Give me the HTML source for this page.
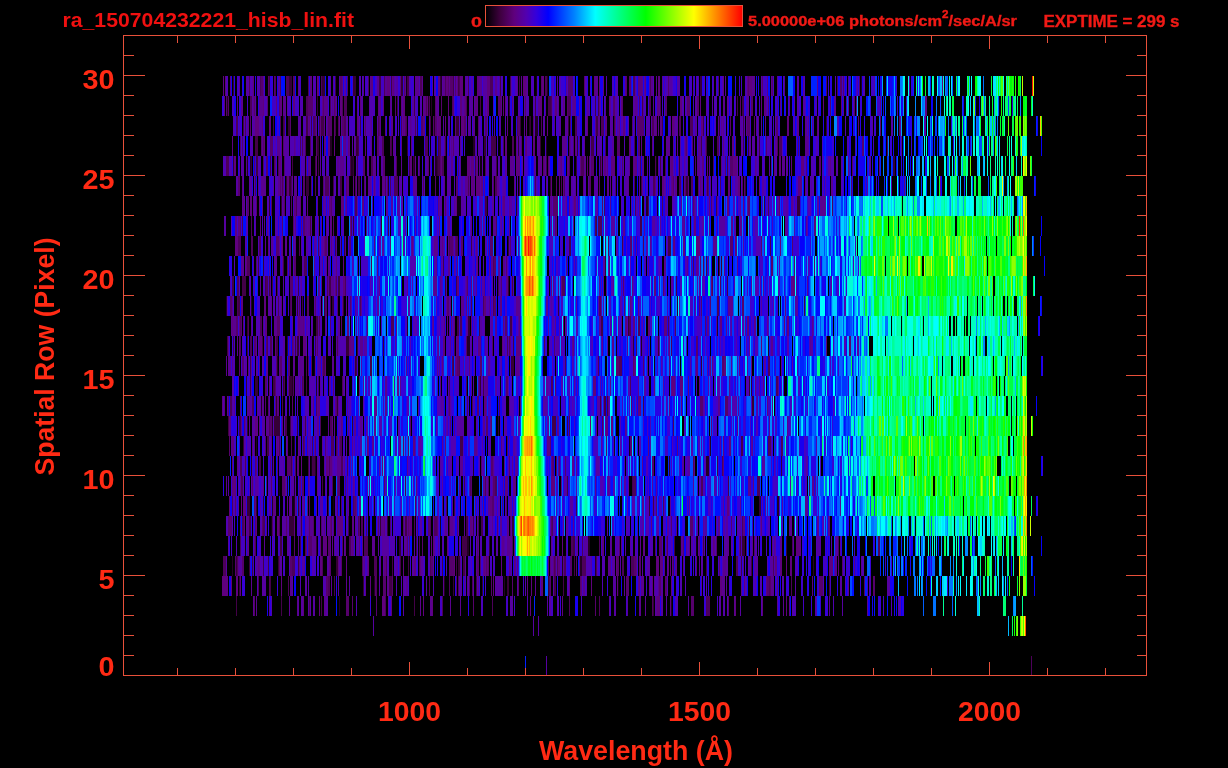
<!DOCTYPE html>
<html><head><meta charset="utf-8"><style>
html,body{margin:0;padding:0;background:#000;}
svg{display:block;}
.t{font-family:"Liberation Sans",Arial,sans-serif;font-weight:bold;}
</style></head><body>
<svg width="1228" height="768" viewBox="0 0 1228 768">
<defs><linearGradient id="cb" x1="0" x2="1" y1="0" y2="0"><stop offset="0.000" stop-color="#000000"/><stop offset="0.016" stop-color="#120012"/><stop offset="0.055" stop-color="#3e003e"/><stop offset="0.110" stop-color="#5f007d"/><stop offset="0.157" stop-color="#5200af"/><stop offset="0.196" stop-color="#3400dc"/><stop offset="0.243" stop-color="#0000ff"/><stop offset="0.345" stop-color="#0082ff"/><stop offset="0.427" stop-color="#00ffff"/><stop offset="0.525" stop-color="#00ff80"/><stop offset="0.624" stop-color="#00ff00"/><stop offset="0.718" stop-color="#80ff00"/><stop offset="0.812" stop-color="#ffff00"/><stop offset="0.906" stop-color="#ff8000"/><stop offset="1.000" stop-color="#ff0000"/></linearGradient></defs>
<rect width="1228" height="768" fill="#000"/>
<g stroke-width="20" fill="none">
<path stroke="#120012" d="M618 586h1M245 546h1M321 546h2M680 546h1M696 546h1M271 526h1M753 526h1M292 506h2M333 506h1M374 506h1M279 486h1M358 486h2M311 466h1M629 446h1M314 366h1M654 366h1M762 366h1M616 346h1M275 306h1M549 226h1M457 206h4M487 206h1M657 206h1M683 186h1M305 166h1M480 166h2M602 166h1M656 166h1M256 106h1M406 86h1M536 86h1"/>
<path stroke="#240024" d="M339 606h1M671 606h1M374 586h1M444 586h1M504 586h1M232 566h1M562 566h1M580 566h2M595 566h1M813 566h1M467 546h2M588 546h2M440 526h1M272 506h1M294 506h1M777 506h2M287 486h1M294 486h1M251 466h1M272 466h1M315 466h1M473 466h1M706 466h3M256 446h1M294 446h1M614 446h1M710 446h1M272 426h1M261 406h1M292 386h1M316 386h1M277 366h1M467 346h3M641 346h1M768 346h1M407 326h1M717 326h1M226 306h1M251 306h1M677 306h1M319 266h1M516 206h1M646 206h2M388 186h1M247 166h1M250 166h1M351 166h2M414 166h1M435 166h2M330 146h2M436 146h1M473 146h2M500 146h1M546 146h1M434 126h1M529 126h1M535 126h3M227 106h1M428 106h1M431 106h1M441 86h1M547 86h1M861 86h1"/>
<path stroke="#360036" d="M653 606h1M239 586h1M363 586h1M453 586h1M482 586h1M507 586h2M548 586h1M236 566h1M249 566h1M278 566h1M336 566h2M458 566h2M316 546h1M399 546h2M489 546h1M742 546h3M786 546h1M289 526h5M380 526h1M387 526h1M512 526h2M247 506h3M256 506h1M263 506h1M298 506h1M649 506h1M759 506h2M669 466h1M781 466h1M243 446h1M247 426h1M274 426h6M297 426h1M352 426h1M498 426h1M276 406h1M337 406h1M752 406h2M246 386h1M255 386h3M283 386h1M289 386h3M480 386h1M749 386h1M751 386h1M355 366h1M511 366h3M701 366h1M287 346h1M297 346h2M346 346h3M357 346h1M383 346h1M633 346h1M658 346h1M247 326h1M468 326h2M628 326h1M297 306h1M324 306h1M332 306h2M343 306h1M558 306h1M445 286h1M508 286h1M263 266h1M605 266h1M721 266h1M341 246h1M344 246h1M508 246h1M353 226h1M381 226h1M269 206h1M281 206h1M764 206h1M797 206h3M286 186h1M289 186h2M306 186h3M550 186h1M686 186h2M745 186h1M233 166h1M251 166h1M353 166h1M413 166h1M437 166h1M576 166h1M600 166h1M679 166h1M893 166h2M317 146h2M356 146h2M407 146h1M484 146h2M518 146h1M540 146h1M577 146h1M748 146h1M288 126h2M417 126h1M456 126h3M520 126h1M530 126h1M568 126h1M719 126h1M826 126h1M317 106h1M509 106h1M233 86h1M289 86h3M322 86h3M353 86h3M401 86h2M440 86h1M700 86h2"/>
<path stroke="#430048" d="M236 606h1M281 606h1M321 606h1M414 606h1M270 586h1M334 586h1M389 586h3M476 586h1M554 586h2M563 586h1M829 586h1M252 566h1M263 566h1M268 566h1M298 566h1M392 566h1M400 566h1M408 566h1M442 566h1M456 566h1M463 566h2M574 566h1M706 566h1M741 566h1M751 566h1M280 546h2M300 546h1M416 546h1M462 546h5M573 546h2M674 546h1M703 546h1M740 546h1M249 526h2M301 526h1M348 526h1M405 526h2M449 526h1M466 526h2M473 526h1M481 526h2M749 526h1M328 506h1M454 506h1M576 506h1M653 506h1M322 486h1M405 486h1M464 486h1M567 486h1M632 486h1M728 486h1M259 466h2M291 466h1M308 466h1M312 466h3M717 466h1M267 446h2M460 446h3M741 446h2M228 426h1M239 426h2M285 426h2M290 426h1M305 426h1M552 426h4M567 426h1M600 406h1M604 406h2M607 406h1M643 406h1M250 386h1M273 386h2M306 386h1M483 386h1M250 366h1M356 366h1M370 366h2M453 366h1M227 346h1M233 346h1M247 346h1M262 346h1M276 346h2M295 346h1M315 346h1M513 346h1M316 326h2M457 326h2M479 326h1M510 326h2M601 326h2M238 306h2M302 306h1M330 306h1M804 306h1M232 286h2M242 286h4M265 286h1M269 286h1M272 286h1M298 286h1M329 286h2M338 286h2M456 286h1M512 286h1M676 286h1M727 286h1M258 266h1M283 266h1M443 266h1M706 266h1M335 246h1M471 246h1M569 246h2M622 246h1M668 246h3M770 246h1M310 226h1M388 226h1M596 226h1M640 226h2M485 206h2M716 206h1M333 186h1M340 186h2M358 186h2M519 186h1M641 186h1M707 186h1M256 166h2M270 166h1M292 166h1M315 166h1M318 166h1M350 166h1M409 166h1M438 166h2M475 166h1M496 166h1M546 166h1M660 166h1M727 166h1M255 146h3M358 146h1M391 146h1M438 146h1M445 146h1M491 146h5M591 146h3M701 146h1M706 146h1M743 146h1M759 146h1M243 126h1M273 126h1M283 126h1M306 126h2M311 126h1M319 126h1M321 126h3M335 126h1M360 126h1M430 126h1M596 126h2M614 126h1M662 126h1M703 126h1M743 126h1M397 106h1M414 106h1M480 106h1M535 106h1M548 106h3M595 106h1M598 106h1M642 106h1M737 106h1M742 106h2M269 86h1M335 86h1M379 86h2M391 86h1M407 86h2M453 86h1M458 86h1M500 86h1M510 86h1M519 86h1"/>
<path stroke="#4d005a" d="M309 606h1M385 606h1M442 606h1M492 606h1M569 606h1M599 606h1M652 606h1M706 606h4M258 586h1M269 586h1M288 586h1M328 586h2M376 586h1M429 586h1M449 586h1M458 586h1M469 586h1M472 586h1M549 586h1M769 586h1M791 586h1M223 566h3M237 566h1M292 566h3M322 566h1M362 566h1M374 566h3M386 566h1M419 566h1M430 566h1M554 566h1M557 566h1M564 566h2M582 566h4M596 566h1M622 566h2M631 566h3M673 566h1M736 566h2M773 566h1M240 546h1M255 546h1M305 546h1M349 546h2M364 546h4M419 546h1M512 546h1M571 546h2M582 546h1M599 546h1M667 546h1M792 546h1M838 546h1M878 546h2M242 526h2M263 526h2M272 526h1M279 526h1M358 526h1M361 526h2M366 526h1M414 526h1M430 526h1M434 526h3M478 526h1M552 526h1M742 526h1M232 506h1M353 506h1M415 506h1M446 506h1M663 506h1M241 486h2M332 486h1M470 486h1M485 486h1M488 486h1M495 486h2M633 486h3M701 486h2M757 486h3M809 486h1M240 466h2M245 466h1M295 466h1M329 466h1M341 466h2M347 466h1M693 466h1M722 466h1M279 446h1M291 446h1M303 446h1M312 446h1M331 446h3M336 446h1M340 446h2M768 446h3M781 446h2M269 426h1M320 426h1M330 426h2M569 426h1M602 426h1M673 426h1M230 406h2M252 406h2M282 406h1M316 406h1M467 406h1M472 406h1M499 406h1M284 386h1M293 386h1M302 386h1M318 386h1M342 386h1M449 386h1M466 386h1M551 386h2M630 386h1M776 386h2M306 366h1M323 366h2M452 366h1M459 366h1M565 366h1M598 366h1M619 366h3M768 366h2M240 346h1M250 346h2M267 346h1M270 346h2M337 346h1M454 346h1M507 346h1M509 346h1M544 346h1M636 346h1M671 346h1M240 326h1M248 326h1M260 326h2M319 326h1M391 326h3M460 326h2M629 326h2M638 326h2M668 326h1M675 326h1M237 306h1M278 306h1M290 306h1M299 306h1M360 306h1M471 306h1M483 306h1M493 306h1M599 306h2M717 306h2M237 286h2M266 286h2M277 286h1M327 286h1M336 286h1M345 286h1M498 286h1M562 286h3M712 286h1M720 286h1M247 266h3M304 266h3M371 266h1M493 266h1M693 266h1M703 266h1M719 266h1M238 246h3M251 246h2M259 246h2M299 246h1M318 246h1M449 246h1M456 246h2M608 246h1M643 246h1M242 226h1M251 226h1M351 226h1M496 226h1M595 226h1M598 226h4M296 206h1M355 206h2M604 206h1M635 206h1M648 206h1M662 206h1M768 206h1M832 206h1M255 186h1M282 186h1M291 186h1M315 186h1M325 186h4M355 186h1M385 186h1M390 186h1M394 186h4M423 186h1M468 186h1M495 186h2M535 186h1M561 186h1M564 186h1M634 186h1M653 186h2M679 186h2M691 186h2M720 186h1M226 166h3M274 166h1M278 166h1M357 166h1M371 166h2M396 166h1M442 166h2M485 166h1M569 166h1M581 166h3M640 166h1M655 166h1M665 166h1M713 166h1M300 146h1M302 146h1M305 146h1M310 146h1M382 146h2M390 146h1M425 146h3M439 146h2M503 146h1M512 146h2M605 146h1M634 146h1M717 146h2M777 146h1M779 146h3M887 146h1M236 126h2M245 126h1M280 126h1M284 126h1M313 126h2M338 126h1M344 126h2M378 126h1M401 126h1M406 126h1M415 126h1M517 126h1M541 126h1M575 126h2M601 126h3M652 126h2M679 126h2M690 126h3M250 106h2M306 106h2M330 106h1M342 106h1M344 106h3M426 106h1M429 106h1M452 106h1M466 106h1M551 106h1M568 106h3M649 106h2M660 106h1M249 86h1M260 86h1M275 86h1M280 86h1M286 86h3M308 86h1M321 86h1M368 86h1M384 86h1M420 86h2M445 86h1M459 86h1M468 86h1M490 86h3M545 86h2M633 86h2M650 86h1M837 86h1M1031 666h1"/>
<path stroke="#56006c" d="M254 606h1M346 606h3M352 606h1M376 606h1M473 606h1M595 606h1M691 606h3M728 606h1M326 586h2M375 586h1M383 586h3M392 586h1M456 586h1M491 586h1M512 586h1M518 586h1M550 586h1M580 586h1M626 586h3M659 586h2M665 586h2M767 586h2M770 586h1M819 586h4M864 586h1M873 586h2M235 566h1M242 566h2M279 566h1M290 566h2M330 566h1M341 566h1M431 566h2M449 566h5M477 566h2M480 566h1M486 566h1M488 566h1M548 566h1M555 566h1M570 566h2M576 566h1M617 566h2M634 566h2M639 566h2M719 566h1M842 566h1M294 546h1M309 546h3M328 546h2M342 546h1M407 546h1M409 546h1M422 546h1M477 546h1M619 546h1M655 546h1M659 546h3M683 546h1M716 546h1M746 546h1M754 546h1M228 526h4M255 526h1M262 526h1M286 526h1M309 526h1M313 526h1M321 526h1M331 526h1M359 526h1M378 526h1M390 526h1M403 526h1M408 526h1M417 526h1M428 526h2M437 526h1M457 526h1M497 526h1M510 526h1M551 526h1M671 526h1M690 526h3M731 526h1M235 506h1M254 506h1M309 506h1M337 506h1M341 506h1M354 506h2M492 506h2M502 506h1M506 506h1M656 506h1M252 486h1M271 486h1M282 486h3M302 486h2M338 486h2M345 486h1M384 486h1M471 486h1M493 486h2M255 466h1M287 466h4M481 466h1M491 466h2M509 466h1M552 466h2M556 466h1M559 466h1M565 466h1M652 466h2M229 446h1M265 446h1M304 446h1M315 446h1M325 446h1M403 446h1M408 446h1M507 446h1M550 446h1M606 446h1M630 446h2M244 426h1M270 426h2M410 426h1M450 426h1M486 426h2M491 426h1M228 406h1M265 406h1M268 406h1M292 406h1M336 406h1M449 406h1M477 406h2M520 406h1M631 406h1M700 406h3M725 406h3M265 386h2M275 386h1M303 386h1M333 386h1M479 386h1M506 386h2M555 386h1M239 366h1M242 366h2M276 366h1M280 366h2M288 366h2M308 366h1M311 366h1M457 366h2M480 366h2M616 366h3M633 366h1M643 366h1M722 366h2M239 346h1M254 346h2M266 346h1M292 346h1M317 346h1M466 346h1M492 346h1M554 346h1M696 346h2M849 346h2M236 326h2M241 326h1M277 326h3M330 326h1M341 326h1M367 326h1M505 326h2M705 326h1M230 306h2M291 306h1M307 306h2M315 306h1M325 306h2M337 306h1M350 306h1M447 306h2M494 306h2M624 306h1M699 306h1M701 306h1M710 306h1M742 306h2M290 286h3M467 286h1M501 286h1M623 286h1M663 286h1M256 266h1M287 266h1M289 266h1M294 266h2M494 266h2M506 266h1M609 266h1M700 266h1M771 266h2M794 266h1M814 266h1M276 246h3M325 246h2M349 246h2M450 246h3M455 246h1M461 246h2M490 246h3M510 246h1M605 246h1M630 246h2M730 246h3M761 246h1M792 246h1M240 226h1M282 226h1M293 226h1M303 226h2M333 226h1M555 226h1M247 206h2M256 206h1M271 206h1M284 206h1M291 206h1M331 206h1M445 206h1M553 206h5M602 206h1M693 206h1M711 206h1M748 206h2M779 206h1M238 186h2M280 186h1M303 186h2M311 186h1M323 186h1M346 186h1M364 186h1M387 186h1M435 186h1M456 186h2M493 186h1M556 186h1M589 186h2M599 186h1M615 186h1M673 186h1M685 186h1M698 186h1M708 186h1M742 186h1M744 186h1M851 186h1M254 166h1M263 166h1M266 166h2M284 166h1M363 166h2M383 166h2M419 166h1M428 166h1M440 166h1M458 166h1M543 166h1M548 166h1M587 166h1M589 166h1M591 166h3M622 166h1M695 166h1M725 166h1M730 166h3M806 166h1M819 166h2M852 166h1M240 146h1M242 146h1M261 146h1M263 146h1M270 146h3M283 146h1M316 146h1M377 146h2M449 146h1M453 146h1M521 146h1M569 146h1M573 146h1M617 146h3M638 146h2M686 146h1M692 146h1M766 146h1M798 146h1M862 146h2M250 126h1M290 126h1M315 126h1M328 126h4M334 126h1M342 126h2M365 126h1M379 126h1M405 126h1M421 126h2M433 126h1M435 126h2M464 126h2M478 126h1M485 126h2M518 126h2M533 126h1M570 126h1M632 126h1M637 126h7M730 126h1M747 126h3M754 126h1M776 126h2M899 126h1M226 106h1M228 106h1M254 106h1M267 106h1M279 106h1M308 106h5M323 106h1M334 106h1M395 106h1M435 106h1M441 106h1M453 106h1M498 106h3M525 106h1M567 106h1M613 106h2M622 106h1M639 106h1M665 106h2M687 106h3M697 106h2M740 106h1M751 106h2M768 106h1M830 106h1M854 106h1M261 86h2M268 86h1M274 86h1M293 86h2M340 86h2M347 86h1M404 86h1M448 86h1M450 86h3M455 86h1M541 86h1M568 86h5M584 86h1M626 86h1M629 86h2M668 86h1M718 86h1M748 86h1M762 86h1M772 86h1M826 86h1M840 86h2M843 86h1M859 86h1"/>
<path stroke="#5f007e" d="M303 606h1M319 606h1M382 606h3M391 606h1M423 606h1M432 606h1M530 606h1M562 606h1M657 606h3M670 606h1M735 606h1M762 606h1M786 606h1M222 586h6M231 586h1M236 586h2M240 586h1M281 586h1M370 586h1M493 586h1M527 586h1M531 586h1M541 586h2M569 586h1M581 586h1M591 586h1M617 586h1M639 586h1M652 586h1M671 586h1M720 586h2M744 586h1M766 586h1M777 586h1M812 586h1M258 566h1M320 566h2M329 566h1M338 566h1M346 566h1M368 566h1M384 566h2M403 566h1M414 566h2M420 566h1M454 566h1M484 566h1M487 566h1M501 566h1M509 566h1M514 566h1M517 566h1M550 566h1M553 566h1M558 566h2M616 566h1M636 566h1M656 566h3M660 566h3M668 566h1M670 566h1M683 566h1M696 566h1M775 566h2M780 566h2M786 566h1M790 566h2M829 566h4M838 566h1M854 566h1M254 546h1M306 546h1M308 546h1M320 546h1M324 546h3M345 546h1M352 546h1M359 546h1M431 546h1M433 546h1M447 546h1M514 546h1M562 546h1M602 546h2M621 546h1M643 546h1M689 546h1M699 546h1M713 546h1M739 546h1M796 546h5M244 526h1M256 526h1M277 526h2M294 526h1M324 526h1M330 526h1M333 526h1M337 526h6M352 526h1M384 526h1M409 526h3M470 526h2M507 526h1M651 526h1M676 526h1M743 526h2M761 526h1M229 506h1M241 506h1M243 506h3M255 506h1M273 506h2M304 506h1M442 506h1M475 506h1M483 506h1M490 506h2M727 506h2M232 486h4M299 486h2M308 486h1M337 486h1M416 486h1M505 486h3M513 486h3M551 486h4M753 486h1M232 466h1M256 466h1M270 466h1M277 466h1M297 466h2M301 466h1M326 466h2M330 466h2M382 466h1M723 466h1M232 446h2M252 446h1M254 446h1M277 446h1M287 446h1M299 446h1M307 446h1M337 446h1M339 446h1M367 446h1M413 446h2M445 446h1M501 446h1M547 446h3M648 446h1M677 446h1M723 446h1M729 446h2M229 426h2M241 426h1M255 426h2M332 426h1M341 426h1M348 426h1M454 426h1M590 426h1M606 426h2M611 426h2M711 426h1M737 426h1M222 406h1M224 406h1M240 406h1M249 406h1M275 406h1M277 406h2M313 406h1M318 406h2M335 406h1M484 406h2M638 406h3M681 406h1M767 406h1M269 386h1M288 386h1M440 386h1M593 386h3M654 386h1M672 386h3M680 386h3M688 386h1M755 386h1M763 386h1M248 366h1M322 366h1M325 366h1M442 366h1M456 366h1M469 366h1M634 366h1M669 366h1M696 366h2M710 366h1M712 366h1M724 366h2M259 346h3M275 346h1M293 346h1M303 346h3M349 346h2M353 346h1M443 346h2M457 346h2M478 346h3M502 346h1M510 346h1M516 346h5M573 346h1M669 346h1M761 346h1M826 346h1M232 326h1M239 326h1M243 326h1M265 326h2M298 326h2M303 326h1M347 326h2M444 326h1M451 326h1M454 326h1M471 326h1M503 326h1M519 326h1M563 326h1M625 326h2M633 326h2M648 326h2M664 326h3M720 326h2M747 326h2M784 326h1M787 326h2M241 306h2M264 306h2M281 306h1M466 306h1M484 306h2M500 306h2M630 306h1M638 306h1M785 306h1M335 286h1M343 286h2M457 286h2M471 286h1M484 286h1M507 286h1M551 286h1M553 286h1M561 286h1M632 286h1M654 286h2M711 286h1M793 286h2M246 266h1M314 266h1M336 266h1M343 266h1M377 266h1M457 266h1M566 266h1M648 266h1M724 266h1M235 246h3M268 246h1M282 246h1M324 246h1M331 246h1M345 246h1M374 246h1M412 246h1M442 246h1M476 246h1M673 246h2M683 246h2M696 246h4M735 246h2M780 246h1M235 226h2M238 226h2M260 226h1M264 226h1M267 226h1M295 226h1M301 226h1M318 226h1M331 226h1M439 226h1M509 226h1M556 226h1M694 226h2M814 226h2M243 206h1M250 206h2M294 206h2M300 206h1M307 206h1M329 206h2M341 206h3M362 206h2M438 206h1M456 206h1M503 206h2M569 206h1M574 206h2M639 206h1M709 206h1M727 206h2M743 206h1M242 186h1M283 186h1M287 186h2M347 186h2M353 186h1M374 186h1M382 186h1M472 186h2M476 186h4M481 186h2M514 186h1M551 186h1M559 186h1M563 186h1M583 186h1M655 186h1M662 186h2M672 186h1M675 186h1M688 186h1M700 186h1M728 186h2M738 186h2M759 186h1M798 186h4M805 186h1M904 186h1M234 166h2M275 166h1M279 166h2M306 166h1M316 166h1M410 166h2M441 166h1M467 166h3M471 166h3M476 166h1M516 166h4M544 166h1M561 166h1M567 166h2M580 166h1M601 166h1M604 166h2M607 166h1M611 166h4M633 166h1M635 166h2M671 166h2M702 166h2M707 166h1M721 166h1M733 166h4M774 166h1M779 166h2M791 166h1M801 166h3M848 166h1M232 146h1M264 146h1M281 146h1M324 146h1M328 146h2M334 146h1M348 146h1M365 146h1M411 146h1M505 146h2M516 146h1M525 146h2M533 146h2M575 146h1M629 146h2M641 146h1M652 146h1M685 146h1M723 146h1M732 146h2M735 146h1M255 126h4M262 126h1M269 126h2M309 126h1M320 126h1M357 126h1M385 126h1M403 126h1M423 126h2M438 126h3M445 126h1M455 126h1M461 126h3M507 126h1M526 126h1M547 126h1M587 126h1M595 126h1M605 126h2M615 126h1M619 126h1M623 126h2M656 126h1M660 126h2M672 126h2M701 126h2M787 126h2M817 126h1M858 126h1M880 126h1M224 106h1M237 106h1M263 106h1M276 106h1M280 106h2M293 106h2M335 106h1M340 106h2M360 106h1M378 106h1M383 106h1M401 106h1M403 106h2M425 106h1M427 106h1M448 106h1M460 106h2M465 106h1M475 106h2M487 106h2M503 106h1M505 106h1M512 106h1M540 106h2M555 106h2M563 106h1M599 106h1M609 106h1M621 106h1M657 106h2M680 106h2M700 106h1M761 106h1M765 106h1M823 106h1M841 106h1M856 106h1M880 106h1M925 106h2M223 86h1M225 86h1M230 86h1M253 86h1M310 86h2M317 86h2M342 86h1M371 86h2M387 86h3M393 86h1M400 86h1M438 86h2M446 86h2M457 86h1M460 86h3M477 86h2M487 86h3M523 86h3M542 86h2M594 86h1M599 86h1M603 86h1M625 86h1M638 86h4M645 86h1M658 86h2M747 86h1M749 86h3M767 86h1M942 86h1"/>
<path stroke="#5a008f" d="M253 606h1M256 606h1M289 606h1M297 606h1M324 606h2M420 606h1M430 606h2M450 606h1M460 606h1M639 606h2M645 606h1M656 606h1M734 606h1M777 606h1M783 606h1M789 606h1M829 606h1M867 606h1M251 586h1M290 586h2M331 586h1M346 586h1M365 586h1M387 586h2M406 586h2M443 586h1M464 586h1M467 586h1M478 586h1M535 586h1M583 586h2M624 586h1M638 586h1M641 586h3M649 586h1M654 586h1M658 586h1M722 586h3M726 586h1M741 586h1M771 586h3M848 586h1M238 566h1M259 566h1M299 566h1M304 566h1M364 566h1M399 566h1M460 566h1M465 566h1M476 566h1M483 566h1M485 566h1M510 566h1M515 566h1M563 566h1M579 566h1M608 566h3M664 566h1M672 566h1M675 566h2M699 566h1M723 566h3M743 566h1M835 566h2M861 566h1M247 546h2M264 546h1M273 546h1M298 546h1M312 546h4M323 546h1M330 546h1M332 546h1M334 546h1M344 546h1M351 546h1M353 546h1M362 546h1M372 546h3M406 546h1M434 546h1M438 546h1M478 546h1M502 546h2M507 546h5M551 546h1M611 546h1M640 546h1M644 546h1M666 546h1M681 546h2M686 546h1M714 546h1M727 546h2M752 546h1M772 546h1M774 546h1M780 546h2M240 526h1M247 526h2M266 526h1M305 526h1M310 526h3M353 526h1M381 526h3M407 526h1M445 526h2M450 526h3M464 526h1M472 526h1M492 526h1M500 526h2M508 526h1M563 526h1M573 526h1M718 526h2M789 526h3M817 526h2M828 526h2M269 506h2M275 506h1M287 506h1M289 506h2M296 506h1M307 506h1M347 506h1M356 506h1M488 506h2M513 506h1M642 506h2M670 506h1M740 506h1M765 506h1M805 506h3M226 486h1M240 486h1M263 486h1M266 486h1M285 486h1M317 486h1M347 486h1M353 486h1M459 486h1M483 486h2M503 486h1M561 486h1M595 486h1M608 486h1M748 486h3M812 486h2M815 486h1M237 466h1M292 466h1M317 466h1M324 466h1M328 466h1M337 466h4M344 466h1M384 466h1M407 466h1M460 466h3M493 466h1M504 466h1M512 466h1M516 466h2M551 466h1M572 466h2M576 466h1M642 466h1M694 466h1M231 446h1M271 446h1M278 446h1M322 446h1M349 446h1M352 446h1M368 446h1M372 446h2M399 446h2M442 446h1M474 446h3M709 446h1M752 446h1M249 426h1M257 426h1M259 426h1M266 426h3M282 426h1M317 426h2M328 426h1M334 426h1M342 426h1M354 426h2M360 426h2M374 426h2M483 426h2M490 426h1M557 426h2M596 426h1M625 426h1M769 426h1M787 426h1M234 406h1M247 406h2M262 406h2M317 406h1M338 406h1M347 406h1M375 406h2M385 406h2M448 406h1M509 406h1M569 406h1M608 406h1M669 406h1M718 406h2M772 406h1M300 386h1M329 386h1M343 386h1M359 386h1M385 386h2M397 386h2M400 386h1M478 386h1M485 386h3M610 386h1M638 386h1M671 386h1M699 386h1M729 386h1M759 386h1M778 386h1M226 366h1M228 366h3M232 366h1M259 366h1M266 366h2M279 366h1M293 366h2M299 366h5M320 366h1M332 366h2M406 366h1M437 366h1M439 366h1M455 366h1M488 366h2M516 366h3M635 366h1M647 366h1M739 366h1M751 366h1M781 366h1M228 346h1M237 346h1M351 346h2M360 346h3M438 346h1M450 346h1M456 346h1M572 346h1M602 346h1M612 346h2M627 346h1M648 346h1M749 346h1M771 346h2M810 346h1M231 326h1M233 326h3M251 326h1M263 326h1M274 326h3M300 326h3M325 326h1M338 326h2M396 326h1M433 326h1M447 326h1M467 326h1M495 326h2M555 326h1M565 326h1M599 326h2M610 326h1M618 326h1M621 326h1M707 326h2M726 326h1M745 326h1M754 326h2M767 326h1M812 326h1M232 306h1M271 306h1M342 306h1M346 306h1M355 306h1M361 306h1M450 306h1M461 306h3M468 306h1M489 306h1M516 306h4M546 306h2M728 306h5M260 286h1M270 286h1M275 286h1M295 286h1M318 286h1M328 286h1M331 286h3M379 286h1M407 286h1M434 286h3M440 286h1M466 286h1M473 286h1M476 286h1M506 286h1M558 286h1M613 286h1M659 286h1M763 286h1M791 286h2M796 286h1M807 286h1M241 266h3M274 266h3M290 266h1M322 266h1M326 266h1M328 266h2M436 266h1M448 266h2M476 266h2M489 266h1M491 266h2M503 266h2M664 266h2M687 266h1M696 266h2M737 266h1M265 246h1M272 246h1M279 246h1M285 246h2M290 246h1M293 246h1M295 246h1M336 246h1M390 246h1M434 246h4M448 246h1M453 246h1M488 246h1M636 246h1M650 246h1M713 246h4M305 226h2M308 226h2M326 226h1M330 226h1M350 226h1M366 226h1M405 226h1M448 226h2M471 226h1M483 226h1M493 226h3M551 226h1M623 226h2M660 226h1M684 226h1M709 226h1M731 226h2M740 226h2M806 226h1M242 206h1M253 206h1M259 206h1M262 206h1M283 206h1M317 206h1M323 206h1M346 206h1M454 206h1M509 206h1M550 206h2M566 206h1M577 206h1M610 206h1M681 206h1M694 206h1M791 206h2M820 206h6M258 186h1M261 186h5M278 186h2M281 186h1M294 186h3M300 186h1M356 186h1M368 186h3M383 186h2M413 186h4M444 186h1M465 186h3M469 186h1M471 186h1M484 186h1M497 186h2M546 186h1M575 186h1M607 186h2M610 186h1M612 186h1M628 186h1M639 186h1M642 186h1M671 186h1M676 186h1M684 186h1M706 186h1M831 186h2M246 166h1M308 166h2M326 166h1M337 166h2M340 166h4M373 166h3M401 166h1M415 166h1M427 166h1M451 166h2M477 166h1M479 166h1M505 166h1M510 166h4M534 166h1M538 166h4M560 166h1M584 166h2M629 166h1M634 166h1M642 166h2M658 166h1M670 166h1M697 166h3M709 166h1M755 166h1M782 166h3M830 166h1M879 166h1M262 146h1M277 146h3M294 146h1M325 146h1M343 146h3M349 146h1M355 146h1M371 146h1M393 146h2M401 146h1M444 146h1M451 146h1M460 146h1M538 146h2M562 146h5M570 146h1M579 146h1M584 146h1M666 146h4M673 146h1M677 146h1M680 146h1M698 146h3M705 146h1M770 146h1M775 146h2M805 146h3M248 126h1M308 126h1M324 126h1M327 126h1M339 126h1M341 126h1M358 126h1M371 126h1M380 126h1M391 126h2M404 126h1M410 126h1M437 126h1M473 126h2M524 126h1M554 126h1M566 126h1M598 126h2M634 126h1M654 126h2M658 126h1M674 126h1M695 126h1M718 126h1M721 126h1M723 126h1M746 126h1M756 126h1M758 126h1M765 126h1M797 126h2M805 126h2M808 126h1M812 126h1M241 106h2M253 106h1M259 106h4M283 106h3M322 106h1M324 106h4M332 106h1M357 106h1M380 106h1M390 106h1M423 106h2M436 106h2M464 106h1M477 106h1M485 106h1M501 106h1M538 106h2M545 106h1M558 106h1M573 106h3M605 106h1M610 106h1M635 106h2M643 106h1M653 106h1M659 106h1M723 106h2M764 106h1M777 106h1M780 106h1M789 106h1M834 106h2M239 86h1M263 86h1M298 86h1M363 86h1M370 86h1M377 86h2M385 86h2M392 86h1M405 86h1M415 86h4M422 86h1M443 86h2M449 86h1M479 86h3M495 86h2M517 86h1M521 86h1M526 86h1M557 86h1M566 86h1M595 86h3M642 86h1M651 86h2M656 86h1M662 86h1M693 86h1M723 86h1M725 86h1M752 86h3M771 86h1M777 86h1M784 86h1M803 86h1M817 86h1M848 86h1"/>
<path stroke="#5600a0" d="M373 626h1M533 626h1M538 626h1M269 606h1M298 606h1M301 606h2M308 606h1M310 606h1M313 606h2M326 606h2M388 606h1M403 606h1M510 606h3M547 606h1M550 606h1M609 606h1M614 606h2M627 606h1M655 606h1M661 606h2M666 606h1M688 606h1M720 606h1M723 606h1M740 606h1M815 606h1M842 606h1M262 586h4M292 586h1M305 586h2M308 586h1M338 586h1M349 586h1M379 586h1M403 586h2M426 586h1M459 586h3M473 586h1M495 586h8M517 586h1M553 586h1M586 586h1M613 586h3M661 586h2M701 586h1M755 586h1M783 586h1M795 586h1M840 586h2M887 586h3M226 566h1M239 566h3M256 566h2M280 566h2M302 566h2M327 566h2M339 566h2M363 566h1M367 566h1M380 566h1M383 566h1M396 566h2M412 566h2M421 566h2M433 566h1M551 566h2M591 566h1M612 566h3M620 566h1M642 566h1M647 566h3M667 566h1M701 566h2M726 566h2M749 566h2M754 566h4M770 566h3M228 546h1M287 546h2M336 546h2M356 546h1M378 546h1M382 546h7M404 546h2M414 546h1M442 546h1M459 546h1M496 546h2M504 546h1M557 546h1M566 546h1M576 546h2M584 546h4M610 546h1M616 546h2M625 546h1M630 546h1M636 546h1M691 546h2M694 546h1M698 546h1M704 546h1M724 546h3M775 546h1M793 546h1M817 546h4M835 546h3M840 546h1M246 526h1M253 526h1M282 526h4M287 526h1M300 526h1M308 526h1M322 526h2M327 526h3M355 526h2M364 526h1M404 526h1M420 526h2M433 526h1M453 526h1M477 526h1M511 526h1M567 526h1M607 526h1M642 526h2M657 526h2M667 526h2M697 526h1M703 526h1M705 526h2M716 526h1M723 526h2M726 526h2M740 526h1M781 526h1M238 506h1M260 506h1M291 506h1M295 506h1M299 506h1M316 506h1M320 506h3M348 506h1M359 506h2M452 506h1M466 506h1M496 506h1M509 506h3M570 506h3M689 506h1M723 506h1M762 506h1M782 506h1M840 506h1M228 486h1M251 486h1M255 486h3M291 486h3M325 486h1M354 486h1M367 486h1M369 486h1M395 486h1M442 486h1M486 486h2M492 486h1M564 486h3M609 486h1M624 486h2M628 486h1M652 486h1M656 486h1M693 486h1M714 486h1M238 466h1M273 466h1M283 466h1M309 466h1M318 466h1M332 466h1M350 466h1M352 466h1M379 466h1M440 466h1M450 466h2M456 466h1M479 466h1M483 466h1M515 466h1M558 466h1M596 466h3M682 466h2M688 466h2M762 466h3M806 466h2M244 446h1M276 446h1M298 446h1M310 446h1M314 446h1M318 446h1M346 446h1M354 446h1M360 446h2M419 446h2M482 446h1M509 446h1M513 446h2M601 446h1M620 446h1M720 446h1M751 446h1M245 426h1M252 426h3M262 426h3M284 426h1M291 426h2M303 426h2M366 426h1M436 426h1M447 426h1M457 426h7M505 426h2M548 426h1M605 426h1M626 426h1M227 406h1M232 406h1M250 406h2M257 406h4M285 406h1M333 406h1M363 406h1M374 406h1M441 406h3M450 406h1M474 406h1M480 406h1M486 406h1M518 406h1M543 406h4M597 406h3M636 406h1M703 406h1M736 406h1M738 406h1M757 406h1M232 386h1M238 386h1M296 386h3M320 386h1M330 386h1M346 386h1M363 386h1M471 386h1M473 386h1M484 386h1M495 386h2M546 386h2M574 386h1M644 386h2M663 386h1M245 366h2M251 366h1M256 366h2M263 366h1M318 366h2M463 366h1M501 366h1M519 366h1M690 366h1M707 366h1M731 366h1M747 366h1M764 366h2M792 366h1M256 346h1M264 346h1M283 346h2M289 346h1M296 346h1M311 346h1M316 346h1M336 346h1M338 346h1M364 346h3M395 346h1M437 346h1M471 346h1M485 346h1M504 346h1M549 346h1M556 346h3M561 346h1M631 346h2M659 346h1M746 346h1M811 346h2M857 346h2M292 326h1M304 326h1M306 326h1M312 326h1M318 326h1M432 326h1M449 326h1M453 326h1M466 326h1M473 326h1M480 326h2M484 326h1M491 326h2M518 326h1M548 326h1M552 326h2M559 326h1M701 326h1M716 326h1M731 326h1M743 326h1M250 306h1M268 306h3M273 306h1M284 306h1M314 306h1M320 306h1M322 306h1M351 306h1M377 306h2M446 306h1M449 306h1M453 306h1M491 306h1M551 306h1M576 306h1M620 306h1M631 306h1M679 306h1M695 306h1M761 306h1M773 306h1M795 306h3M254 286h1M283 286h1M301 286h1M319 286h1M321 286h1M358 286h1M433 286h1M441 286h1M446 286h1M482 286h2M492 286h1M499 286h2M599 286h1M603 286h1M606 286h1M621 286h1M671 286h2M699 286h1M734 286h1M751 286h1M760 286h1M831 286h1M245 266h1M253 266h1M282 266h1M302 266h2M434 266h2M441 266h1M454 266h1M498 266h2M603 266h2M691 266h1M708 266h1M246 246h1M271 246h1M281 246h1M301 246h1M306 246h2M314 246h2M322 246h2M382 246h2M403 246h1M411 246h1M440 246h2M443 246h1M477 246h1M509 246h1M518 246h1M743 246h1M224 226h2M255 226h1M307 226h1M311 226h1M321 226h1M337 226h1M415 226h1M481 226h1M501 226h1M503 226h1M553 226h1M573 226h1M603 226h1M611 226h4M644 226h1M652 226h3M682 226h2M699 226h1M702 226h2M719 226h6M785 226h3M244 206h1M254 206h1M282 206h1M297 206h3M324 206h2M327 206h1M332 206h2M386 206h2M391 206h2M397 206h3M439 206h3M455 206h1M461 206h3M492 206h2M502 206h1M510 206h2M563 206h1M573 206h1M597 206h1M644 206h1M665 206h2M672 206h1M717 206h1M740 206h1M747 206h1M762 206h1M777 206h2M786 206h2M795 206h1M817 206h2M829 206h1M236 186h2M249 186h3M273 186h1M292 186h1M324 186h1M329 186h1M365 186h1M379 186h1M400 186h1M447 186h4M461 186h2M474 186h1M480 186h1M492 186h1M503 186h3M568 186h1M571 186h2M577 186h1M588 186h1M594 186h4M625 186h3M664 186h2M669 186h1M701 186h2M710 186h1M732 186h1M735 186h3M762 186h2M811 186h1M823 186h1M825 186h1M867 186h1M239 166h1M241 166h3M281 166h1M290 166h1M310 166h1M320 166h1M323 166h1M339 166h1M367 166h2M381 166h2M394 166h2M426 166h1M430 166h1M460 166h1M470 166h1M482 166h1M492 166h4M499 166h1M506 166h1M524 166h1M535 166h1M545 166h1M549 166h1M559 166h1M590 166h1M606 166h1M620 166h1M647 166h1M675 166h1M678 166h1M684 166h1M687 166h1M756 166h1M758 166h1M764 166h1M769 166h1M775 166h1M786 166h2M828 166h2M836 166h2M841 166h1M869 166h2M284 146h5M295 146h1M303 146h2M320 146h1M340 146h2M352 146h1M354 146h1M379 146h3M452 146h1M475 146h1M478 146h2M519 146h2M537 146h1M576 146h1M597 146h3M612 146h2M645 146h1M694 146h1M729 146h1M741 146h1M749 146h2M752 146h3M808 146h1M901 146h1M247 126h1M253 126h2M259 126h3M298 126h3M316 126h1M346 126h2M364 126h1M370 126h1M377 126h1M402 126h1M411 126h1M429 126h1M443 126h1M448 126h2M468 126h3M494 126h1M500 126h1M543 126h2M559 126h2M565 126h1M567 126h1M586 126h1M610 126h3M617 126h2M628 126h1M651 126h1M670 126h1M675 126h3M696 126h1M722 126h1M740 126h2M761 126h1M794 126h1M818 126h1M872 126h1M891 126h1M900 126h1M252 106h1M255 106h1M287 106h1M314 106h1M333 106h1M336 106h1M361 106h2M369 106h1M379 106h1M391 106h1M402 106h1M412 106h2M438 106h1M462 106h2M469 106h4M474 106h1M524 106h1M564 106h1M572 106h1M579 106h1M587 106h2M615 106h2M633 106h2M637 106h1M686 106h1M695 106h2M706 106h1M712 106h1M727 106h2M746 106h3M766 106h1M794 106h1M798 106h1M803 106h2M843 106h1M846 106h1M848 106h1M246 86h3M252 86h1M278 86h2M330 86h1M333 86h1M339 86h1M345 86h1M394 86h1M396 86h2M434 86h1M442 86h1M456 86h1M465 86h2M483 86h4M499 86h1M527 86h1M606 86h1M635 86h1M644 86h1M649 86h1M664 86h1M669 86h3M677 86h3M696 86h1M698 86h1M707 86h1M713 86h1M761 86h1M797 86h2M857 86h1M874 86h1M546 666h1"/>
<path stroke="#5100b1" d="M271 606h1M356 606h1M481 606h1M527 606h1M549 606h1M557 606h2M675 606h3M719 606h1M724 606h1M727 606h1M761 606h1M792 606h4M816 606h1M833 606h1M891 606h1M898 606h3M257 586h1M300 586h1M323 586h3M396 586h1M401 586h1M405 586h1M433 586h1M468 586h1M477 586h1M525 586h1M567 586h2M602 586h1M650 586h2M655 586h3M667 586h1M680 586h2M685 586h1M706 586h1M745 586h2M760 586h2M782 586h1M823 586h1M845 586h1M869 586h2M260 566h3M289 566h1M312 566h3M387 566h2M394 566h2M423 566h1M429 566h1M446 566h1M471 566h1M493 566h1M556 566h1M586 566h5M597 566h1M602 566h3M722 566h1M748 566h1M767 566h1M774 566h1M796 566h2M862 566h2M236 546h1M244 546h1M289 546h1M357 546h2M390 546h5M470 546h1M476 546h1M480 546h2M501 546h1M505 546h2M552 546h1M618 546h1M632 546h1M635 546h1M650 546h3M671 546h1M687 546h2M711 546h2M715 546h1M731 546h2M741 546h1M755 546h2M758 546h1M816 546h1M831 546h1M226 526h2M232 526h1M260 526h2M273 526h2M288 526h1M306 526h2M318 526h2M332 526h1M346 526h1M377 526h1M385 526h2M394 526h1M438 526h1M444 526h1M447 526h1M454 526h1M458 526h1M489 526h3M550 526h1M553 526h3M566 526h1M570 526h1M626 526h2M640 526h1M646 526h3M670 526h1M704 526h1M737 526h3M760 526h1M768 526h2M796 526h1M822 526h2M233 506h2M283 506h1M302 506h2M326 506h1M335 506h2M401 506h1M418 506h1M438 506h1M477 506h1M494 506h1M498 506h2M505 506h1M556 506h1M627 506h1M632 506h3M647 506h2M687 506h1M729 506h1M767 506h1M773 506h1M238 486h1M243 486h1M249 486h1M253 486h1M258 486h1M261 486h2M269 486h2M295 486h1M309 486h1M329 486h2M350 486h1M413 486h1M469 486h1M490 486h1M556 486h1M576 486h1M600 486h3M607 486h1M613 486h2M621 486h1M699 486h2M704 486h1M790 486h1M797 486h1M802 486h1M817 486h1M244 466h1M280 466h3M333 466h1M335 466h2M343 466h1M438 466h1M441 466h2M446 466h1M448 466h2M482 466h1M508 466h1M599 466h1M646 466h2M687 466h1M704 466h2M774 466h1M245 446h1M247 446h3M263 446h1M269 446h2M286 446h1M326 446h2M418 446h1M421 446h1M451 446h5M468 446h1M477 446h1M488 446h3M502 446h2M515 446h1M597 446h1M639 446h2M650 446h1M672 446h1M691 446h2M698 446h1M771 446h1M816 446h1M273 426h1M306 426h1M308 426h3M315 426h1M338 426h3M362 426h1M367 426h1M379 426h3M398 426h2M407 426h1M444 426h1M446 426h1M449 426h1M467 426h3M476 426h2M504 426h1M512 426h2M518 426h2M547 426h1M598 426h1M620 426h1M650 426h1M756 426h2M223 406h1M233 406h1M269 406h1M297 406h1M305 406h4M311 406h2M326 406h3M339 406h3M349 406h2M358 406h1M407 406h2M418 406h1M437 406h4M460 406h1M504 406h2M510 406h4M572 406h1M593 406h1M609 406h1M666 406h1M697 406h1M704 406h1M728 406h3M732 406h4M751 406h1M833 406h1M233 386h1M249 386h1M251 386h1M276 386h5M295 386h1M309 386h6M344 386h1M347 386h1M371 386h1M434 386h1M448 386h1M469 386h1M481 386h2M508 386h1M511 386h1M520 386h1M544 386h1M548 386h2M561 386h2M569 386h1M577 386h1M600 386h1M607 386h1M628 386h2M708 386h1M710 386h1M717 386h3M746 386h3M233 366h2M244 366h1M262 366h1M272 366h3M282 366h3M298 366h1M315 366h1M317 366h1M344 366h1M361 366h1M465 366h2M474 366h1M500 366h1M505 366h2M552 366h1M556 366h1M572 366h1M576 366h1M650 366h1M661 366h1M709 366h1M797 366h1M242 346h1M272 346h1M299 346h1M306 346h1M310 346h1M318 346h3M328 346h3M339 346h7M358 346h1M410 346h1M449 346h1M470 346h1M474 346h3M486 346h2M496 346h1M503 346h1M508 346h1M551 346h1M562 346h1M592 346h1M607 346h1M655 346h1M657 346h1M668 346h1M700 346h1M717 346h1M720 346h1M736 346h1M755 346h3M787 346h2M809 346h1M833 346h1M844 346h2M256 326h4M297 326h1M307 326h1M311 326h1M320 326h2M413 326h4M439 326h1M441 326h3M482 326h2M490 326h1M512 326h1M566 326h1M576 326h1M627 326h1M642 326h1M644 326h1M651 326h1M751 326h1M813 326h1M227 306h1M274 306h1M277 306h1M279 306h2M283 306h1M296 306h1M298 306h1M300 306h1M348 306h1M357 306h1M408 306h2M414 306h1M436 306h1M486 306h3M550 306h1M552 306h1M598 306h1M601 306h1M603 306h1M621 306h1M628 306h1M845 306h1M230 286h1M239 286h1M249 286h2M263 286h1M279 286h1M300 286h1M313 286h1M334 286h1M340 286h3M370 286h1M412 286h1M465 286h1M480 286h1M601 286h1M611 286h2M664 286h1M697 286h1M703 286h2M755 286h3M769 286h1M234 266h1M269 266h1M280 266h1M293 266h1M333 266h3M352 266h1M410 266h6M442 266h1M455 266h1M479 266h1M483 266h1M505 266h1M507 266h1M574 266h1M608 266h1M630 266h1M644 266h2M659 266h1M685 266h2M698 266h1M716 266h1M779 266h1M808 266h1M853 266h1M245 246h1M258 246h1M294 246h1M316 246h1M321 246h1M327 246h1M332 246h2M364 246h1M379 246h2M413 246h1M433 246h1M444 246h1M446 246h1M472 246h2M475 246h1M485 246h2M552 246h1M561 246h1M566 246h1M616 246h2M633 246h1M646 246h2M667 246h1M756 246h4M764 246h1M231 226h1M246 226h2M262 226h1M268 226h1M275 226h3M279 226h1M294 226h1M315 226h2M327 226h2M342 226h2M400 226h1M437 226h1M447 226h1M451 226h1M470 226h1M484 226h1M500 226h1M716 226h1M734 226h2M749 226h1M753 226h1M755 226h3M794 226h1M807 226h1M246 206h1M255 206h1M267 206h2M287 206h1M303 206h3M345 206h1M357 206h1M401 206h2M406 206h1M418 206h1M444 206h1M446 206h1M464 206h2M476 206h1M480 206h3M500 206h1M513 206h2M517 206h1M552 206h1M565 206h1M596 206h1M621 206h1M631 206h1M633 206h1M636 206h2M695 206h1M698 206h1M712 206h1M733 206h1M766 206h1M783 206h3M793 206h1M808 206h3M243 186h1M254 186h1M275 186h3M318 186h1M334 186h2M338 186h2M371 186h1M373 186h1M375 186h1M386 186h1M392 186h1M399 186h1M401 186h1M403 186h1M406 186h1M422 186h1M424 186h1M443 186h1M454 186h1M499 186h1M502 186h1M517 186h1M536 186h1M565 186h3M573 186h2M584 186h2M644 186h1M650 186h3M667 186h1M674 186h1M724 186h1M741 186h1M765 186h1M806 186h2M810 186h1M812 186h2M841 186h1M865 186h1M891 186h1M940 186h1M223 166h3M229 166h3M258 166h3M285 166h5M301 166h4M336 166h1M344 166h2M356 166h1M378 166h1M418 166h1M434 166h1M447 166h3M486 166h3M498 166h1M502 166h1M522 166h1M558 166h1M562 166h2M603 166h1M619 166h1M623 166h1M625 166h4M638 166h2M661 166h2M673 166h1M680 166h2M685 166h1M700 166h2M728 166h1M737 166h1M762 166h1M771 166h1M776 166h1M811 166h2M814 166h1M831 166h3M244 146h1M250 146h3M267 146h1M274 146h2M290 146h4M298 146h1M311 146h2M370 146h1M395 146h1M450 146h1M454 146h5M480 146h2M517 146h1M527 146h3M571 146h2M590 146h1M600 146h2M624 146h1M663 146h1M675 146h1M684 146h1M687 146h1M713 146h1M742 146h1M757 146h2M767 146h3M782 146h1M786 146h1M796 146h1M816 146h2M848 146h1M233 126h2M239 126h1M244 126h1M252 126h1M303 126h3M326 126h1M359 126h1M366 126h4M389 126h1M408 126h2M412 126h3M459 126h1M479 126h2M505 126h1M511 126h1M534 126h1M552 126h1M585 126h1M592 126h1M621 126h2M625 126h1M646 126h4M715 126h1M727 126h1M742 126h1M744 126h1M775 126h1M837 126h2M845 126h1M892 126h1M924 126h2M264 106h3M300 106h3M313 106h1M315 106h1M331 106h1M370 106h4M415 106h1M420 106h2M486 106h1M506 106h2M518 106h2M526 106h3M533 106h2M552 106h1M554 106h1M557 106h1M561 106h2M600 106h1M645 106h1M682 106h2M714 106h3M730 106h2M735 106h1M797 106h1M815 106h1M853 106h1M897 106h1M226 86h2M250 86h2M257 86h3M299 86h1M313 86h3M344 86h1M359 86h2M395 86h1M409 86h1M419 86h1M432 86h1M435 86h1M454 86h1M467 86h1M471 86h2M497 86h1M502 86h1M511 86h1M515 86h2M531 86h1M533 86h1M537 86h1M553 86h1M560 86h1M567 86h1M585 86h2M616 86h2M653 86h1M666 86h2M672 86h1M704 86h1M716 86h1M722 86h1M745 86h2M835 86h1M863 86h2M909 86h1"/>
<path stroke="#4400c3" d="M440 606h2M482 606h1M506 606h2M514 606h1M551 606h2M581 606h1M610 606h1M626 606h1M717 606h1M803 606h1M883 606h1M364 586h1M408 586h1M465 586h1M485 586h1M523 586h1M540 586h1M582 586h1M585 586h1M646 586h1M676 586h1M729 586h1M753 586h2M776 586h1M802 586h1M830 586h1M867 586h1M253 566h1M255 566h1M265 566h3M283 566h2M300 566h1M317 566h1M365 566h2M379 566h1M428 566h1M461 566h1M468 566h2M490 566h2M494 566h1M511 566h1M560 566h2M627 566h1M645 566h2M690 566h1M693 566h1M718 566h1M740 566h1M745 566h1M795 566h1M824 566h3M834 566h1M843 566h2M847 566h1M885 566h1M231 546h1M241 546h3M253 546h1M259 546h2M278 546h2M282 546h1M318 546h1M335 546h1M338 546h1M340 546h1M380 546h2M401 546h2M417 546h1M428 546h2M435 546h1M443 546h1M448 546h1M486 546h3M492 546h2M554 546h1M558 546h1M583 546h1M601 546h1M615 546h1M631 546h1M662 546h1M672 546h1M695 546h1M702 546h1M750 546h2M766 546h1M773 546h1M827 546h1M854 546h1M234 526h1M297 526h3M302 526h1M316 526h2M325 526h1M347 526h1M357 526h1M379 526h1M416 526h1M426 526h1M468 526h1M474 526h2M483 526h2M493 526h2M498 526h1M558 526h1M612 526h2M628 526h2M637 526h1M641 526h1M656 526h1M663 526h3M693 526h2M696 526h1M699 526h1M725 526h1M733 526h2M741 526h1M747 526h1M794 526h1M797 526h1M825 526h1M236 506h1M284 506h1M318 506h1M339 506h1M343 506h1M363 506h1M373 506h1M389 506h1M394 506h1M409 506h1M419 506h1M455 506h1M462 506h1M480 506h2M486 506h1M495 506h1M562 506h1M594 506h1M637 506h2M646 506h1M654 506h2M659 506h3M664 506h1M674 506h1M708 506h2M725 506h2M770 506h1M246 486h1M268 486h1M272 486h1M286 486h1M318 486h3M326 486h1M331 486h1M385 486h2M436 486h2M450 486h1M491 486h1M498 486h2M548 486h1M603 486h1M646 486h1M648 486h1M703 486h1M715 486h1M718 486h1M773 486h5M805 486h2M239 466h1M242 466h2M246 466h1M252 466h1M263 466h1M279 466h1M294 466h1M325 466h1M334 466h1M434 466h1M457 466h2M464 466h1M470 466h3M494 466h1M624 466h1M626 466h2M635 466h1M671 466h1M679 466h1M685 466h2M750 466h1M771 466h1M777 466h1M804 466h2M820 466h1M234 446h2M239 446h1M250 446h1M253 446h1M264 446h1M302 446h1M308 446h2M329 446h1M343 446h2M357 446h1M365 446h1M395 446h2M415 446h1M422 446h1M463 446h1M516 446h1M594 446h3M613 446h1M665 446h3M699 446h1M701 446h1M775 446h1M786 446h2M799 446h1M804 446h2M825 446h1M851 446h1M236 426h1M296 426h1M314 426h1M316 426h1M349 426h1M358 426h2M389 426h3M456 426h1M500 426h1M511 426h1M545 426h1M574 426h1M599 426h2M603 426h1M643 426h1M647 426h1M684 426h2M713 426h4M724 426h1M731 426h1M744 426h1M750 426h1M772 426h1M775 426h2M788 426h3M821 426h1M286 406h1M289 406h1M383 406h1M389 406h1M451 406h1M473 406h1M488 406h3M502 406h2M547 406h1M553 406h5M563 406h2M573 406h2M592 406h1M601 406h1M603 406h1M619 406h1M622 406h1M629 406h1M633 406h1M663 406h1M706 406h1M716 406h2M756 406h1M768 406h2M790 406h2M807 406h1M267 386h1M282 386h1M299 386h1M301 386h1M317 386h1M321 386h2M324 386h3M365 386h2M368 386h2M383 386h1M394 386h1M446 386h1M454 386h1M456 386h3M498 386h2M505 386h1M516 386h2M568 386h1M602 386h1M648 386h1M665 386h1M675 386h1M696 386h1M734 386h1M756 386h1M781 386h1M798 386h2M804 386h1M827 386h1M241 366h1M253 366h2M275 366h1M336 366h3M343 366h1M345 366h1M354 366h1M357 366h1M408 366h1M410 366h1M441 366h1M443 366h1M447 366h1M450 366h1M467 366h2M486 366h2M490 366h1M507 366h1M515 366h1M563 366h2M573 366h1M596 366h2M612 366h2M657 366h1M674 366h1M695 366h1M703 366h1M713 366h1M737 366h1M743 366h1M775 366h1M830 366h1M838 366h1M234 346h1M258 346h1M268 346h2M280 346h3M290 346h1M294 346h1M308 346h1M332 346h1M363 346h1M391 346h1M440 346h1M446 346h3M452 346h1M490 346h2M494 346h1M505 346h2M511 346h2M550 346h1M555 346h1M563 346h2M591 346h1M601 346h1M618 346h1M640 346h1M642 346h3M656 346h1M691 346h1M704 346h1M706 346h1M723 346h2M753 346h1M770 346h1M778 346h1M815 346h1M252 326h1M264 326h1M282 326h1M308 326h2M326 326h1M337 326h1M356 326h1M358 326h1M381 326h1M405 326h2M418 326h1M437 326h2M452 326h1M475 326h1M504 326h1M516 326h1M577 326h1M614 326h1M641 326h1M697 326h3M711 326h1M730 326h1M734 326h2M738 326h3M742 326h1M768 326h1M233 306h1M254 306h1M257 306h3M276 306h1M288 306h1M316 306h2M319 306h1M328 306h2M356 306h1M359 306h1M375 306h1M440 306h2M492 306h1M505 306h2M514 306h2M553 306h1M561 306h2M609 306h2M632 306h1M650 306h1M657 306h3M667 306h1M690 306h3M750 306h1M770 306h2M844 306h1M264 286h1M268 286h1M286 286h3M296 286h2M326 286h1M337 286h1M346 286h2M377 286h2M404 286h3M410 286h1M442 286h1M474 286h1M488 286h1M494 286h1M511 286h1M513 286h1M630 286h1M633 286h1M651 286h1M680 286h2M693 286h1M702 286h1M747 286h1M758 286h1M778 286h2M830 286h1M837 286h2M846 286h1M257 266h1M320 266h2M324 266h2M337 266h3M361 266h7M461 266h1M473 266h2M553 266h1M556 266h2M576 266h1M596 266h1M653 266h1M658 266h1M760 266h3M767 266h1M820 266h1M269 246h1M273 246h1M289 246h1M308 246h2M312 246h1M319 246h1M330 246h1M406 246h1M432 246h1M454 246h1M549 246h3M567 246h2M623 246h1M626 246h1M651 246h1M760 246h1M797 246h2M855 246h1M237 226h1M254 226h1M358 226h2M398 226h2M403 226h1M480 226h1M490 226h1M554 226h1M605 226h1M616 226h1M655 226h2M658 226h1M665 226h1M700 226h2M725 226h2M743 226h1M762 226h1M768 226h1M772 226h1M275 206h4M286 206h1M288 206h2M293 206h1M334 206h1M367 206h1M372 206h1M416 206h1M448 206h1M451 206h3M467 206h4M475 206h1M479 206h1M488 206h2M499 206h1M505 206h3M512 206h1M564 206h1M572 206h1M576 206h1M579 206h1M595 206h1M667 206h1M673 206h2M687 206h1M713 206h1M734 206h1M736 206h1M738 206h2M771 206h1M773 206h2M796 206h1M260 186h1M269 186h1M284 186h1M319 186h1M344 186h2M439 186h1M459 186h2M463 186h2M515 186h1M523 186h2M534 186h1M537 186h1M539 186h1M547 186h1M613 186h2M621 186h1M624 186h1M646 186h2M657 186h1M670 186h1M699 186h1M712 186h5M733 186h1M764 186h1M796 186h2M834 186h2M842 186h1M322 166h1M324 166h1M327 166h2M347 166h3M408 166h1M425 166h1M450 166h1M453 166h1M514 166h1M525 166h2M573 166h1M599 166h1M722 166h3M739 166h1M757 166h1M804 166h2M813 166h1M822 166h2M842 166h1M241 146h1M243 146h1M280 146h1M296 146h2M299 146h1M301 146h1M346 146h2M359 146h4M431 146h1M433 146h2M441 146h3M447 146h1M461 146h1M464 146h1M476 146h1M482 146h1M486 146h1M488 146h3M497 146h1M502 146h1M545 146h1M582 146h2M594 146h1M608 146h4M653 146h1M702 146h3M719 146h1M722 146h1M724 146h2M822 146h1M847 146h1M855 146h1M873 146h1M246 126h1M310 126h1M349 126h6M395 126h2M398 126h1M416 126h1M451 126h1M466 126h1M484 126h1M487 126h1M499 126h1M538 126h1M556 126h3M577 126h3M669 126h1M683 126h1M693 126h2M698 126h2M707 126h2M720 126h1M724 126h2M733 126h2M750 126h1M757 126h1M769 126h3M773 126h1M793 126h1M807 126h1M870 126h2M874 126h1M232 106h2M247 106h1M272 106h4M288 106h3M295 106h4M320 106h2M354 106h1M374 106h1M382 106h1M398 106h1M416 106h2M483 106h2M493 106h1M513 106h1M536 106h2M586 106h1M589 106h1M592 106h2M604 106h1M611 106h2M617 106h2M620 106h1M644 106h1M662 106h1M685 106h1M693 106h1M707 106h2M719 106h2M755 106h2M759 106h1M767 106h1M805 106h1M816 106h1M818 106h1M877 106h3M906 106h1M237 86h2M300 86h1M362 86h1M365 86h3M375 86h2M381 86h3M390 86h1M410 86h1M413 86h1M493 86h2M498 86h1M501 86h1M532 86h1M551 86h2M559 86h1M590 86h1M612 86h2M615 86h1M689 86h3M739 86h1M741 86h1M763 86h3M773 86h1M804 86h1M828 86h1M842 86h1M844 86h1M846 86h1M856 86h1M871 86h3"/>
<path stroke="#3800d6" d="M370 606h1M390 606h1M560 606h1M704 606h2M811 606h1M820 606h1M825 606h3M878 606h3M242 586h3M277 586h1M422 586h2M479 586h1M607 586h1M640 586h1M703 586h2M708 586h1M756 586h1M786 586h3M801 586h1M817 586h2M847 586h1M860 586h1M947 586h1M250 566h1M264 566h1M270 566h3M295 566h3M315 566h1M318 566h1M410 566h1M416 566h2M424 566h1M440 566h2M470 566h1M481 566h2M506 566h3M516 566h1M518 566h1M566 566h1M598 566h2M611 566h1M628 566h1M637 566h1M680 566h2M684 566h1M695 566h1M712 566h2M720 566h1M738 566h2M778 566h2M802 566h2M809 566h1M816 566h2M823 566h1M848 566h2M856 566h1M870 566h1M891 566h1M258 546h1M270 546h1M272 546h1M274 546h1M290 546h1M354 546h1M360 546h1M389 546h1M396 546h1M408 546h1M436 546h2M439 546h1M455 546h1M473 546h2M567 546h1M575 546h1M579 546h3M637 546h1M648 546h1M668 546h3M693 546h1M706 546h1M761 546h1M802 546h1M808 546h1M810 546h1M825 546h1M910 546h1M268 526h1M336 526h1M391 526h1M393 526h1M395 526h6M419 526h1M442 526h2M503 526h4M568 526h1M576 526h1M578 526h2M601 526h3M622 526h2M631 526h1M669 526h1M672 526h3M678 526h1M683 526h1M712 526h1M717 526h1M728 526h3M732 526h1M755 526h1M762 526h2M766 526h2M261 506h2M268 506h1M300 506h1M346 506h1M369 506h1M375 506h1M379 506h1M406 506h1M416 506h1M437 506h1M445 506h1M458 506h2M470 506h1M514 506h1M559 506h1M573 506h1M645 506h1M710 506h1M712 506h1M721 506h2M737 506h3M751 506h2M771 506h2M779 506h1M788 506h1M813 506h4M818 506h1M1037 506h1M231 486h1M239 486h1M245 486h1M247 486h1M254 486h1M259 486h2M276 486h2M290 486h1M348 486h1M352 486h1M371 486h2M374 486h1M397 486h1M417 486h1M438 486h1M440 486h1M449 486h1M454 486h1M460 486h1M463 486h1M511 486h2M557 486h1M569 486h1M604 486h1M697 486h1M707 486h4M716 486h1M723 486h2M730 486h1M742 486h2M268 466h2M284 466h1M319 466h1M345 466h1M348 466h1M359 466h1M380 466h1M408 466h2M412 466h1M433 466h1M478 466h1M484 466h1M490 466h1M495 466h4M510 466h2M513 466h1M548 466h1M563 466h1M566 466h3M595 466h1M602 466h1M608 466h1M616 466h1M629 466h1M631 466h1M700 466h1M709 466h1M740 466h2M775 466h1M797 466h1M802 466h1M832 466h2M840 466h2M1042 466h1M258 446h2M280 446h1M300 446h1M311 446h1M323 446h2M328 446h1M353 446h1M376 446h1M381 446h1M405 446h1M449 446h2M469 446h1M481 446h1M593 446h1M602 446h1M621 446h1M637 446h1M679 446h1M703 446h2M734 446h1M754 446h1M806 446h2M832 446h1M246 426h1M281 426h1M293 426h2M302 426h1M364 426h1M384 426h2M412 426h1M432 426h1M437 426h1M443 426h1M470 426h2M485 426h1M654 426h1M667 426h3M703 426h2M733 426h1M743 426h1M783 426h1M832 426h1M295 406h1M334 406h1M348 406h1M371 406h1M402 406h1M411 406h1M446 406h2M452 406h2M466 406h1M468 406h1M515 406h1M561 406h2M570 406h2M576 406h1M591 406h1M618 406h1M674 406h1M689 406h1M713 406h3M744 406h2M759 406h2M775 406h1M794 406h2M805 406h1M815 406h1M834 406h1M247 386h2M262 386h1M270 386h2M287 386h1M315 386h1M332 386h1M334 386h1M352 386h1M354 386h1M387 386h1M401 386h5M410 386h2M437 386h1M442 386h2M450 386h3M455 386h1M464 386h1M497 386h1M501 386h1M510 386h1M543 386h1M567 386h1M575 386h1M646 386h1M667 386h1M703 386h1M714 386h2M721 386h2M730 386h1M737 386h1M740 386h1M753 386h1M757 386h2M761 386h2M770 386h1M783 386h1M848 386h1M231 366h1M249 366h1M352 366h1M397 366h1M438 366h1M460 366h3M470 366h2M491 366h4M497 366h1M499 366h1M510 366h1M629 366h4M649 366h1M662 366h1M832 366h2M1042 366h1M229 346h1M232 346h1M243 346h2M309 346h1M314 346h1M359 346h1M369 346h2M402 346h1M434 346h1M441 346h2M464 346h2M473 346h1M477 346h1M489 346h1M545 346h2M559 346h1M570 346h1M574 346h1M590 346h1M621 346h2M630 346h1M664 346h1M666 346h1M683 346h1M686 346h1M692 346h2M699 346h1M703 346h1M734 346h2M773 346h2M777 346h1M238 326h1M244 326h1M271 326h1M280 326h2M336 326h1M351 326h1M379 326h1M417 326h1M459 326h1M476 326h1M517 326h1M554 326h1M561 326h1M592 326h1M615 326h1M619 326h2M631 326h2M636 326h1M650 326h1M669 326h1M674 326h1M688 326h1M695 326h2M700 326h1M719 326h1M736 326h1M752 326h1M795 326h1M797 326h1M810 326h2M1039 326h1M334 306h3M349 306h1M365 306h3M374 306h1M381 306h2M402 306h5M432 306h1M439 306h1M464 306h2M480 306h3M549 306h1M556 306h2M639 306h2M700 306h1M706 306h2M709 306h1M740 306h1M751 306h3M760 306h1M764 306h4M231 286h1M253 286h1M257 286h1M278 286h1M285 286h1M302 286h3M308 286h1M325 286h1M348 286h3M371 286h2M452 286h1M463 286h2M475 286h1M486 286h1M489 286h1M491 286h1M496 286h1M502 286h4M517 286h2M547 286h2M554 286h2M624 286h1M665 286h1M689 286h1M717 286h1M744 286h1M766 286h2M771 286h1M259 266h1M265 266h1M281 266h1M353 266h1M357 266h1M445 266h3M465 266h4M472 266h1M486 266h1M514 266h1M549 266h3M627 266h1M634 266h2M660 266h2M740 266h1M777 266h1M806 266h1M809 266h1M817 266h1M858 266h1M261 246h2M302 246h2M310 246h1M340 246h1M348 246h1M400 246h1M404 246h1M460 246h1M497 246h1M505 246h1M511 246h3M516 246h1M555 246h1M560 246h1M666 246h1M700 246h2M753 246h3M793 246h4M810 246h1M241 226h1M341 226h1M352 226h1M354 226h1M368 226h1M375 226h1M380 226h1M385 226h1M418 226h1M450 226h1M461 226h1M507 226h1M516 226h1M565 226h2M606 226h1M637 226h3M668 226h2M672 226h1M686 226h1M691 226h1M693 226h1M739 226h1M754 226h1M839 226h1M354 206h1M365 206h1M381 206h1M414 206h2M436 206h1M447 206h1M473 206h2M490 206h2M495 206h3M508 206h1M559 206h2M562 206h1M570 206h2M622 206h2M675 206h2M704 206h1M707 206h2M718 206h1M725 206h1M767 206h1M769 206h2M788 206h1M807 206h1M259 186h1M270 186h3M361 186h1M391 186h1M393 186h1M404 186h2M407 186h1M441 186h2M488 186h1M500 186h2M526 186h1M542 186h3M620 186h1M633 186h1M656 186h1M681 186h1M718 186h1M734 186h1M749 186h1M756 186h1M816 186h1M822 186h1M833 186h1M858 186h1M876 186h1M248 166h2M264 166h2M271 166h1M276 166h1M358 166h5M377 166h1M422 166h1M459 166h1M474 166h1M503 166h2M521 166h1M527 166h1M577 166h3M596 166h1M608 166h3M621 166h1M649 166h1M659 166h1M666 166h1M682 166h2M686 166h1M705 166h1M729 166h1M740 166h2M751 166h4M763 166h1M798 166h1M815 166h1M826 166h2M853 166h2M268 146h2M273 146h1M276 146h1M367 146h3M412 146h2M424 146h1M429 146h1M501 146h1M530 146h2M595 146h1M631 146h3M691 146h1M697 146h1M726 146h2M760 146h3M765 146h1M774 146h1M814 146h2M818 146h1M832 146h2M890 146h2M911 146h1M235 126h1M238 126h1M240 126h2M263 126h2M277 126h2M285 126h1M312 126h1M318 126h1M372 126h1M472 126h1M481 126h1M512 126h1M616 126h1M633 126h1M700 126h1M704 126h2M714 126h1M778 126h2M813 126h1M828 126h1M849 126h1M875 126h1M951 126h1M222 106h2M239 106h2M328 106h1M353 106h1M358 106h1M381 106h1M454 106h1M457 106h3M544 106h1M553 106h1M571 106h1M594 106h1M596 106h2M602 106h1M641 106h1M648 106h1M655 106h2M664 106h1M734 106h1M750 106h1M775 106h2M785 106h1M788 106h1M799 106h2M808 106h1M828 106h2M860 106h2M870 106h1M242 86h1M264 86h1M271 86h2M328 86h2M334 86h1M350 86h1M352 86h1M398 86h2M403 86h1M411 86h2M469 86h2M482 86h1M512 86h3M555 86h1M561 86h4M573 86h2M636 86h1M665 86h1M673 86h3M697 86h1M712 86h1M720 86h2M766 86h1M783 86h1M896 86h1"/>
<path stroke="#2900e4" d="M270 606h1M389 606h1M468 606h1M778 606h2M902 606h2M336 586h1M455 586h1M557 586h1M636 586h2M672 586h2M677 586h2M711 586h1M730 586h2M742 586h2M764 586h2M775 586h1M807 586h2M837 586h1M301 566h1M310 566h2M398 566h1M437 566h1M472 566h2M567 566h3M592 566h3M629 566h1M663 566h1M707 566h2M721 566h1M742 566h1M777 566h1M806 566h1M808 566h1M846 566h1M859 566h1M931 566h1M229 546h1M246 546h1M301 546h1M319 546h1M341 546h1M456 546h2M460 546h1M500 546h1M553 546h1M605 546h1M622 546h2M649 546h1M656 546h1M665 546h1M737 546h2M760 546h1M770 546h1M776 546h4M803 546h1M829 546h1M841 546h1M873 546h2M251 526h1M265 526h1M343 526h2M365 526h1M367 526h1M422 526h2M427 526h1M439 526h1M496 526h1M502 526h1M562 526h1M569 526h1M577 526h1M632 526h2M645 526h1M649 526h2M682 526h1M684 526h1M752 526h1M764 526h1M775 526h3M782 526h1M857 526h2M246 506h1M267 506h1M271 506h1M279 506h1M367 506h1M370 506h2M387 506h1M390 506h2M400 506h1M444 506h1M471 506h1M478 506h1M487 506h1M497 506h1M508 506h1M564 506h1M569 506h1M574 506h2M595 506h2M614 506h1M622 506h1M652 506h1M665 506h1M680 506h1M692 506h2M696 506h2M732 506h2M800 506h1M223 486h1M236 486h1M273 486h2M298 486h1M301 486h1M344 486h1M349 486h1M356 486h2M377 486h1M398 486h3M403 486h1M441 486h1M452 486h1M465 486h2M500 486h2M563 486h1M610 486h1M619 486h1M626 486h2M639 486h4M661 486h1M664 486h1M678 486h1M725 486h3M736 486h1M751 486h2M772 486h1M840 486h1M233 466h1M253 466h2M257 466h1M271 466h1M346 466h1M361 466h2M369 466h2M416 466h1M419 466h1M443 466h1M463 466h1M499 466h3M507 466h1M546 466h1M560 466h1M564 466h1M574 466h1M577 466h1M613 466h3M648 466h1M718 466h1M783 466h2M811 466h5M246 446h1M262 446h1M295 446h1M305 446h1M316 446h2M330 446h1M334 446h1M338 446h1M355 446h2M358 446h2M382 446h2M398 446h1M443 446h1M478 446h3M483 446h2M499 446h1M517 446h2M546 446h1M553 446h1M561 446h1M623 446h2M626 446h3M673 446h2M680 446h1M687 446h2M727 446h2M739 446h2M743 446h1M763 446h2M772 446h1M779 446h2M821 446h1M231 426h5M238 426h1M260 426h2M295 426h1M401 426h2M409 426h1M413 426h2M431 426h1M445 426h1M448 426h1M455 426h1M472 426h2M482 426h1M488 426h2M516 426h1M698 426h1M718 426h1M739 426h2M745 426h1M752 426h1M754 426h1M763 426h4M773 426h1M235 406h1M274 406h1M303 406h2M320 406h6M346 406h1M351 406h1M364 406h1M370 406h1M406 406h1M481 406h2M514 406h1M516 406h1M549 406h2M590 406h1M617 406h1M627 406h1M634 406h1M655 406h6M662 406h1M667 406h1M673 406h1M687 406h2M698 406h2M770 406h1M235 386h1M259 386h3M348 386h1M388 386h2M408 386h2M433 386h1M462 386h1M502 386h1M518 386h2M550 386h1M631 386h7M647 386h1M653 386h1M666 386h1M668 386h1M690 386h1M704 386h1M711 386h2M731 386h2M764 386h1M828 386h1M339 366h1M404 366h1M418 366h2M435 366h2M440 366h1M473 366h1M476 366h1M479 366h1M483 366h1M553 366h2M641 366h2M644 366h1M665 366h1M691 366h1M714 366h2M744 366h1M788 366h1M823 366h2M248 346h1M253 346h1M323 346h3M371 346h1M386 346h1M392 346h2M396 346h1M433 346h1M451 346h1M484 346h1M495 346h1M497 346h2M552 346h2M571 346h1M576 346h1M596 346h2M645 346h2M663 346h1M676 346h1M707 346h2M713 346h2M721 346h2M737 346h2M747 346h2M779 346h1M803 346h2M854 346h1M290 326h2M295 326h2M305 326h1M331 326h3M366 326h1M375 326h1M440 326h1M445 326h1M462 326h1M465 326h1M474 326h1M507 326h1M545 326h1M551 326h1M560 326h1M596 326h1M608 326h1M611 326h1M655 326h1M659 326h1M662 326h1M694 326h1M728 326h1M753 326h1M764 326h3M775 326h2M791 326h1M798 326h1M228 306h2M304 306h1M318 306h1M340 306h2M362 306h2M373 306h1M401 306h1M444 306h2M470 306h1M475 306h1M498 306h2M510 306h4M520 306h1M559 306h1M571 306h2M622 306h1M642 306h1M652 306h3M656 306h1M762 306h2M772 306h1M776 306h2M293 286h2M299 286h1M351 286h1M361 286h1M374 286h2M385 286h3M439 286h1M460 286h3M468 286h2M487 286h1M519 286h1M622 286h1M634 286h2M673 286h1M700 286h1M718 286h1M723 286h1M784 286h1M818 286h1M836 286h1M229 266h3M264 266h1M266 266h2M288 266h1M315 266h4M347 266h1M388 266h1M444 266h1M470 266h2M480 266h1M508 266h1M519 266h1M558 266h2M573 266h1M598 266h3M647 266h1M656 266h2M688 266h1M694 266h2M741 266h1M796 266h2M274 246h2M280 246h1M431 246h1M467 246h4M480 246h2M498 246h1M500 246h1M514 246h1M562 246h1M572 246h2M634 246h1M638 246h2M675 246h1M726 246h3M749 246h2M840 246h1M280 226h2M296 226h2M317 226h1M372 226h1M392 226h2M404 226h1M419 226h1M434 226h3M438 226h1M489 226h1M502 226h1M517 226h1M550 226h1M559 226h5M567 226h1M607 226h1M621 226h2M629 226h3M636 226h1M647 226h1M657 226h1M661 226h1M663 226h1M676 226h1M678 226h1M707 226h1M836 226h1M316 206h1M328 206h1M348 206h1M366 206h1M428 206h1M434 206h2M484 206h1M518 206h1M626 206h2M629 206h1M638 206h1M640 206h1M645 206h1M656 206h1M660 206h1M679 206h2M690 206h1M692 206h1M696 206h1M757 206h1M781 206h1M794 206h1M800 206h1M811 206h1M815 206h1M252 186h1M298 186h1M301 186h1M376 186h3M430 186h1M538 186h1M578 186h1M604 186h1M617 186h1M643 186h1M704 186h2M722 186h2M752 186h2M761 186h1M773 186h2M786 186h1M826 186h4M843 186h1M901 186h1M232 166h1M238 166h1M255 166h1M300 166h1M454 166h1M617 166h2M637 166h1M667 166h1M674 166h1M693 166h1M704 166h1M789 166h1M795 166h3M799 166h2M849 166h2M859 166h1M867 166h1M872 166h1M901 166h1M912 166h1M374 146h1M400 146h1M408 146h2M432 146h1M462 146h1M524 146h1M557 146h2M567 146h1M578 146h1M603 146h2M647 146h2M681 146h3M744 146h1M771 146h1M809 146h1M813 146h1M850 146h1M860 146h1M870 146h1M883 146h1M900 146h1M953 146h1M970 146h1M361 126h2M386 126h1M390 126h1M490 126h1M492 126h1M516 126h1M553 126h1M593 126h2M604 126h1M620 126h1M627 126h1M636 126h1M644 126h1M668 126h1M686 126h2M712 126h1M796 126h1M802 126h1M823 126h1M827 126h1M853 126h1M860 126h1M864 126h1M910 126h2M258 106h1M277 106h2M411 106h1M510 106h1M585 106h1M638 106h1M677 106h1M744 106h2M771 106h2M792 106h1M809 106h1M819 106h1M852 106h1M1012 106h1M234 86h1M255 86h1M270 86h1M309 86h1M430 86h1M473 86h1M505 86h2M538 86h1M587 86h1M623 86h2M631 86h1M663 86h1M694 86h1M702 86h2M717 86h1M735 86h1M758 86h1M778 86h3M830 86h2M849 86h2M858 86h1M911 86h2M917 86h1"/>
<path stroke="#1700ef" d="M267 606h1M575 606h3M635 606h1M660 606h1M673 606h2M872 606h1M894 606h1M229 586h2M463 586h1M483 586h1M621 586h1M700 586h1M763 586h1M778 586h1M780 586h1M890 586h3M269 566h1M513 566h1M674 566h1M691 566h1M732 566h1M753 566h1M768 566h2M798 566h1M853 566h1M855 566h1M857 566h1M894 566h1M910 566h1M928 566h2M257 546h1M307 546h1M361 546h1M449 546h5M736 546h1M748 546h1M769 546h1M826 546h1M828 546h1M857 546h3M237 526h1M254 526h1M370 526h2M376 526h1M455 526h2M469 526h1M488 526h1M560 526h1M572 526h1M574 526h1M582 526h1M592 526h1M598 526h3M604 526h1M652 526h2M675 526h1M710 526h1M806 526h1M816 526h1M832 526h1M846 526h3M230 506h1M237 506h1M258 506h2M323 506h3M342 506h1M352 506h1M366 506h1M376 506h1M433 506h1M451 506h1M512 506h1M515 506h1M563 506h1M639 506h1M671 506h3M688 506h1M691 506h1M698 506h1M701 506h1M705 506h3M711 506h1M761 506h1M774 506h1M789 506h2M824 506h1M827 506h2M853 506h2M248 486h1M310 486h5M346 486h1M351 486h1M362 486h1M365 486h1M394 486h1M411 486h1M418 486h1M443 486h2M502 486h1M508 486h1M568 486h1M596 486h1M618 486h1M636 486h1M647 486h1M650 486h1M655 486h1M657 486h1M676 486h1M679 486h1M687 486h1M705 486h1M741 486h1M796 486h1M803 486h2M814 486h1M829 486h1M841 486h1M293 466h1M377 466h1M385 466h1M400 466h2M411 466h1M414 466h2M420 466h1M447 466h1M465 466h5M474 466h2M514 466h1M547 466h1M549 466h1M569 466h1M578 466h1M601 466h1M632 466h1M644 466h2M649 466h2M655 466h1M661 466h1M673 466h2M699 466h1M711 466h2M714 466h2M720 466h2M748 466h2M753 466h1M782 466h1M848 466h1M350 446h2M370 446h2M375 446h1M384 446h1M464 446h3M495 446h3M500 446h1M504 446h1M510 446h3M544 446h1M562 446h2M612 446h1M658 446h2M675 446h1M681 446h2M689 446h1M712 446h6M719 446h1M724 446h1M726 446h1M750 446h1M788 446h1M800 446h4M824 446h1M842 446h1M242 426h1M298 426h1M307 426h1M319 426h1M337 426h1M347 426h1M353 426h1M356 426h2M369 426h1M420 426h1M451 426h1M507 426h4M568 426h1M595 426h1M601 426h1M608 426h2M621 426h2M635 426h1M648 426h1M657 426h1M659 426h1M701 426h1M728 426h1M730 426h1M736 426h1M755 426h1M758 426h1M805 426h1M824 426h1M301 406h2M314 406h2M352 406h2M356 406h1M391 406h1M403 406h1M434 406h1M475 406h1M500 406h2M565 406h1M589 406h1M645 406h1M678 406h2M691 406h4M707 406h1M743 406h1M765 406h1M801 406h2M822 406h1M856 406h1M245 386h1M331 386h1M382 386h1M432 386h1M444 386h2M470 386h1M488 386h6M509 386h1M521 386h1M556 386h1M564 386h1M571 386h1M597 386h1M615 386h2M623 386h3M651 386h2M678 386h2M723 386h4M735 386h1M760 386h1M793 386h2M803 386h1M853 386h1M252 366h1M309 366h1M321 366h1M349 366h1M365 366h2M415 366h1M448 366h2M477 366h2M542 366h1M559 366h1M608 366h1M624 366h1M639 366h2M652 366h1M670 366h1M678 366h1M688 366h2M700 366h1M740 366h2M767 366h1M779 366h1M786 366h1M807 366h1M820 366h3M852 366h1M245 346h1M265 346h1M279 346h1M404 346h2M409 346h1M411 346h2M435 346h1M453 346h1M481 346h1M598 346h1M617 346h1M620 346h1M625 346h1M677 346h2M689 346h1M694 346h2M698 346h1M719 346h1M727 346h1M730 346h3M754 346h1M782 346h1M785 346h2M846 346h1M390 326h1M412 326h1M436 326h1M472 326h1M513 326h3M520 326h1M556 326h3M591 326h1M661 326h1M663 326h1M667 326h1M706 326h1M722 326h2M737 326h1M749 326h2M777 326h1M786 326h1M796 326h1M816 326h1M828 326h1M285 306h1M364 306h1M385 306h1M399 306h1M437 306h2M490 306h1M503 306h1M548 306h1M573 306h1M615 306h1M649 306h1M660 306h2M669 306h1M671 306h1M687 306h1M694 306h1M697 306h2M727 306h1M809 306h2M1041 306h1M273 286h2M314 286h2M362 286h5M369 286h1M401 286h1M417 286h1M453 286h2M470 286h1M481 286h1M550 286h1M560 286h1M565 286h1M572 286h1M609 286h1M625 286h1M642 286h1M646 286h4M668 286h2M725 286h2M765 286h1M770 286h1M797 286h2M808 286h1M822 286h3M252 266h1M272 266h1M332 266h1M348 266h2M380 266h1M518 266h1M575 266h1M618 266h1M626 266h1M649 266h4M678 266h1M711 266h1M725 266h2M729 266h3M759 266h1M800 266h1M821 266h1M840 266h2M845 266h1M334 246h1M351 246h2M359 246h5M378 246h1M419 246h1M459 246h1M464 246h1M474 246h1M496 246h1M506 246h1M574 246h1M627 246h3M656 246h2M676 246h1M741 246h1M745 246h1M833 246h1M839 246h1M266 226h1M278 226h1M285 226h3M302 226h1M338 226h2M355 226h2M364 226h1M391 226h1M420 226h1M444 226h2M460 226h1M466 226h3M476 226h1M479 226h1M508 226h1M512 226h2M570 226h1M625 226h1M649 226h1M651 226h1M662 226h1M687 226h1M696 226h2M805 226h1M818 226h1M260 206h1M270 206h1M279 206h1M322 206h1M326 206h1M347 206h1M349 206h2M359 206h1M364 206h1M379 206h2M430 206h3M437 206h1M501 206h1M548 206h1M588 206h1M605 206h3M616 206h1M628 206h1M655 206h1M661 206h1M663 206h2M710 206h1M729 206h1M744 206h1M776 206h1M813 206h1M846 206h1M256 186h1M312 186h1M389 186h1M410 186h3M429 186h1M458 186h1M483 186h1M506 186h2M649 186h1M659 186h1M666 186h1M668 186h1M693 186h2M709 186h1M721 186h1M760 186h1M766 186h2M770 186h2M792 186h1M824 186h1M852 186h1M870 186h1M878 186h1M900 186h1M902 186h1M1035 186h1M307 166h1M431 166h1M457 166h1M528 166h1M533 166h1M557 166h1M676 166h2M860 166h4M896 166h1M925 166h2M238 146h1M322 146h1M437 146h1M637 146h1M674 146h1M747 146h1M763 146h1M783 146h3M799 146h1M826 146h6M849 146h1M861 146h1M871 146h1M879 146h1M893 146h1M988 146h1M400 126h1M452 126h1M571 126h1M580 126h2M626 126h1M710 126h2M809 126h1M830 126h1M854 126h1M884 126h1M916 126h1M1037 126h1M234 106h2M292 106h1M338 106h1M455 106h2M511 106h1M520 106h3M580 106h2M591 106h1M640 106h1M729 106h1M778 106h1M781 106h1M814 106h1M820 106h1M842 106h1M883 106h1M901 106h2M963 106h1M979 106h1M231 86h1M277 86h1M343 86h1M346 86h1M373 86h2M554 86h1M565 86h1M600 86h3M637 86h1M643 86h1M646 86h1M676 86h1M684 86h2M706 86h1M756 86h1M781 86h1M801 86h1M839 86h1M855 86h1M862 86h1M880 86h2M889 86h3"/>
<path stroke="#0600fb" d="M868 606h2M896 606h1M901 606h1M294 586h2M631 586h1M747 586h1M757 586h1M846 586h1M893 586h1M930 586h1M1034 586h1M305 566h1M435 566h1M443 566h2M547 566h1M810 566h1M818 566h1M827 566h1M858 566h1M903 566h1M1011 566h1M302 546h1M673 546h1M684 546h2M700 546h2M733 546h1M806 546h1M809 546h1M865 546h1M883 546h1M911 546h2M959 546h1M972 546h1M1041 546h1M303 526h2M418 526h1M495 526h1M561 526h1M595 526h3M615 526h1M722 526h1M745 526h2M756 526h1M765 526h1M771 526h3M833 526h2M843 526h1M850 526h2M231 506h1M314 506h2M319 506h1M351 506h1M484 506h2M568 506h1M604 506h1M628 506h2M683 506h3M734 506h2M743 506h1M750 506h1M763 506h2M784 506h1M836 506h1M849 506h1M1036 506h1M305 486h3M355 486h1M366 486h1M373 486h1M379 486h1M419 486h1M445 486h1M504 486h1M649 486h1M667 486h2M670 486h3M675 486h1M680 486h1M720 486h1M734 486h1M765 486h1M767 486h1M781 486h1M247 466h1M250 466h1M349 466h1M355 466h1M360 466h1M363 466h1M406 466h1M410 466h1M437 466h1M453 466h3M476 466h2M506 466h1M554 466h1M600 466h1M604 466h1M643 466h1M656 466h1M662 466h2M680 466h2M698 466h1M703 466h1M713 466h1M719 466h1M724 466h5M731 466h1M752 466h1M754 466h1M773 466h1M779 466h2M838 466h1M1041 466h1M273 446h2M306 446h1M313 446h1M369 446h1M380 446h1M438 446h2M441 446h1M486 446h1M505 446h1M508 446h1M551 446h2M568 446h2M617 446h1M633 446h1M643 446h2M649 446h1M671 446h1M676 446h1M697 446h1M707 446h2M736 446h1M744 446h1M767 446h1M791 446h1M243 426h1M343 426h1M350 426h1M365 426h1M395 426h1M418 426h1M421 426h1M435 426h1M453 426h1M480 426h2M550 426h1M571 426h1M575 426h1M619 426h1M623 426h2M644 426h3M649 426h1M655 426h1M665 426h1M672 426h1M676 426h2M702 426h1M707 426h1M725 426h1M735 426h1M751 426h1M759 426h1M229 406h1M241 406h1M254 406h2M354 406h1M365 406h2M392 406h1M419 406h1M436 406h1M444 406h1M456 406h1M470 406h1M476 406h1M496 406h1M498 406h1M517 406h1M542 406h1M552 406h1M559 406h1M588 406h1M596 406h1M606 406h1M637 406h1M670 406h2M682 406h1M696 406h1M720 406h1M777 406h1M785 406h1M814 406h1M828 406h4M1036 406h1M234 386h1M236 386h2M244 386h1M252 386h2M327 386h1M378 386h1M412 386h2M463 386h1M553 386h1M596 386h1M604 386h1M613 386h1M659 386h1M677 386h1M692 386h1M744 386h1M752 386h1M767 386h2M779 386h2M806 386h1M808 386h1M815 386h1M835 386h1M258 366h1M264 366h2M287 366h1M310 366h1M350 366h1M353 366h1M399 366h1M401 366h1M409 366h1M414 366h1M472 366h1M498 366h1M502 366h1M508 366h1M520 366h2M547 366h2M557 366h1M599 366h1M601 366h1M609 366h1M622 366h1M638 366h1M708 366h1M742 366h1M755 366h1M763 366h1M782 366h2M791 366h1M793 366h2M1041 366h1M288 346h1M291 346h1M382 346h1M414 346h1M431 346h1M594 346h2M634 346h1M647 346h1M688 346h1M702 346h1M709 346h1M725 346h2M728 346h2M739 346h1M744 346h1M783 346h1M800 346h1M805 346h1M821 346h2M855 346h1M352 326h1M360 326h1M362 326h1M401 326h4M431 326h1M435 326h1M499 326h2M544 326h1M546 326h1M590 326h1M607 326h1M660 326h1M679 326h1M690 326h3M778 326h2M799 326h1M824 326h2M837 326h1M868 326h1M1038 326h1M240 306h1M255 306h2M353 306h1M380 306h1M398 306h1M400 306h1M456 306h4M504 306h1M555 306h1M568 306h1M577 306h1M593 306h1M597 306h1M613 306h2M651 306h1M686 306h1M703 306h2M719 306h1M782 306h2M798 306h1M825 306h1M236 286h1M360 286h1M367 286h1M418 286h1M455 286h1M485 286h1M510 286h1M546 286h1M568 286h1M594 286h2M610 286h1M627 286h3M636 286h1M643 286h3M652 286h1M677 286h1M679 286h1M686 286h1M690 286h1M705 286h3M733 286h1M789 286h1M805 286h1M816 286h2M825 286h1M840 286h1M260 266h1M381 266h2M384 266h3M431 266h1M433 266h1M459 266h2M475 266h1M487 266h2M490 266h1M509 266h2M516 266h2M555 266h1M567 266h1M569 266h1M595 266h1M620 266h2M631 266h3M638 266h3M679 266h1M684 266h1M738 266h2M748 266h1M766 266h1M1044 266h1M408 246h2M438 246h1M489 246h1M499 246h1M599 246h1M624 246h2M635 246h1M637 246h1M677 246h1M685 246h1M689 246h3M702 246h2M733 246h1M767 246h1M769 246h1M800 246h4M844 246h1M1040 246h1M232 226h3M269 226h1M298 226h3M320 226h1M361 226h2M371 226h1M410 226h1M414 226h1M416 226h1M459 226h1M462 226h2M473 226h1M487 226h1M650 226h1M664 226h1M667 226h1M677 226h1M717 226h1M763 226h3M779 226h2M802 226h2M808 226h1M1041 226h1M351 206h1M374 206h5M395 206h1M421 206h1M429 206h1M433 206h1M567 206h2M578 206h1M608 206h1M615 206h1M653 206h2M699 206h4M705 206h1M714 206h2M719 206h2M737 206h1M758 206h1M765 206h1M812 206h1M819 206h1M299 186h1M372 186h1M525 186h1M637 186h1M645 186h1M750 186h1M789 186h2M793 186h1M803 186h1M845 186h2M848 186h2M887 186h1M941 186h1M253 166h1M268 166h2M531 166h2M550 166h3M564 166h2M641 166h1M718 166h1M743 166h2M807 166h1M864 166h1M910 166h1M246 146h2M326 146h2M649 146h1M662 146h1M688 146h3M797 146h1M843 146h1M865 146h3M898 146h1M918 146h1M929 146h1M1041 146h1M275 126h2M425 126h1M496 126h2M663 126h2M713 126h1M728 126h1M795 126h1M839 126h3M850 126h2M885 126h1M576 106h3M601 106h1M769 106h1M793 106h1M832 106h2M891 106h1M931 106h2M319 86h1M431 86h1M436 86h2M577 86h1M614 86h1M647 86h2M793 86h2M802 86h1M818 86h3M838 86h1M845 86h1M888 86h1"/>
<path stroke="#000eff" d="M336 606h1M399 606h2M790 606h1M874 606h1M887 606h1M814 586h1M826 586h1M852 586h2M907 586h1M926 586h1M940 586h1M251 566h1M578 566h1M921 566h1M1032 566h1M410 546h2M804 546h2M846 546h1M938 546h1M241 526h1M441 526h1M499 526h1M556 526h1M571 526h1M594 526h1M619 526h3M666 526h1M680 526h2M709 526h1M711 526h1M713 526h2M757 526h3M799 526h3M805 526h1M808 526h2M811 526h1M821 526h1M827 526h1M264 506h1M338 506h1M357 506h1M380 506h1M407 506h1M456 506h2M463 506h2M467 506h3M476 506h1M482 506h1M503 506h1M548 506h3M619 506h1M650 506h2M658 506h1M686 506h1M715 506h5M724 506h1M736 506h1M741 506h1M776 506h1M793 506h1M795 506h2M799 506h1M808 506h1M823 506h1M846 506h2M375 486h1M388 486h3M402 486h1M414 486h1M446 486h3M549 486h1M605 486h1M611 486h2M645 486h1M659 486h2M662 486h1M673 486h1M688 486h1M745 486h3M762 486h1M770 486h2M798 486h1M831 486h1M838 486h1M276 466h1M378 466h1M402 466h4M417 466h1M444 466h1M605 466h1M617 466h3M623 466h1M634 466h1M733 466h1M755 466h3M778 466h1M787 466h1M803 466h1M808 466h1M824 466h1M377 446h1M388 446h1M410 446h3M437 446h1M440 446h1M456 446h4M558 446h3M564 446h1M575 446h1M592 446h1M608 446h2M616 446h1M625 446h1M645 446h3M656 446h2M678 446h1M686 446h1M721 446h1M725 446h1M733 446h1M792 446h2M820 446h1M847 446h1M852 446h1M344 426h2M388 426h1M394 426h1M415 426h2M501 426h2M543 426h1M556 426h1M572 426h2M576 426h1M615 426h1M629 426h4M636 426h3M662 426h1M666 426h1M678 426h2M729 426h1M778 426h1M796 426h1M818 426h3M830 426h1M844 426h1M280 406h1M357 406h1M367 406h1M398 406h1M404 406h2M431 406h1M435 406h1M479 406h1M491 406h5M551 406h1M568 406h1M577 406h1M632 406h1M644 406h1M676 406h1M705 406h1M710 406h3M824 406h1M832 406h1M846 406h1M848 406h1M439 386h1M453 386h1M465 386h1M504 386h1M557 386h4M576 386h1M578 386h1M601 386h1M617 386h1M664 386h1M687 386h1M689 386h1M691 386h1M700 386h2M772 386h1M795 386h1M800 386h1M825 386h1M831 386h2M316 366h1M351 366h1M402 366h1M407 366h1M434 366h1M503 366h2M560 366h3M566 366h1M571 366h1M592 366h1M625 366h4M651 366h1M684 366h2M687 366h1M766 366h1M774 366h1M812 366h2M846 366h1M384 346h1M403 346h1M407 346h1M417 346h1M461 346h3M514 346h1M593 346h1M603 346h1M619 346h1M623 346h2M635 346h1M649 346h1M651 346h1M674 346h2M711 346h2M716 346h1M769 346h1M781 346h1M794 346h1M806 346h3M813 346h2M820 346h1M830 346h1M377 326h1M389 326h1M395 326h1M434 326h1M450 326h1M463 326h2M497 326h2M509 326h1M547 326h1M640 326h1M643 326h1M673 326h1M680 326h2M713 326h3M746 326h1M789 326h1M800 326h1M354 306h1M415 306h1M472 306h1M476 306h4M496 306h1M502 306h1M507 306h3M554 306h1M570 306h1M594 306h2M619 306h1M636 306h2M705 306h1M708 306h1M754 306h1M756 306h3M787 306h1M799 306h1M802 306h1M816 306h4M830 306h1M839 306h3M307 286h1M368 286h1M380 286h2M389 286h1M397 286h1M438 286h1M449 286h3M459 286h1M477 286h3M490 286h1M569 286h1M592 286h2M600 286h1M602 286h1M608 286h1M626 286h1M656 286h2M678 286h1M691 286h2M749 286h2M761 286h1M841 286h1M238 266h3M268 266h1M270 266h1M307 266h1M323 266h1M330 266h1M346 266h1M378 266h1M437 266h1M440 266h1M452 266h2M456 266h1M469 266h1M512 266h2M552 266h1M562 266h3M601 266h2M617 266h1M668 266h2M683 266h1M692 266h1M707 266h1M765 266h1M768 266h1M798 266h2M810 266h2M831 266h1M313 246h1M320 246h1M342 246h2M377 246h1M547 246h1M596 246h3M678 246h1M747 246h1M768 246h1M771 246h2M790 246h1M804 246h1M837 246h1M845 246h1M243 226h3M323 226h2M387 226h1M429 226h1M485 226h1M499 226h1M505 226h2M514 226h1M564 226h1M608 226h2M673 226h2M698 226h1M705 226h2M710 226h1M744 226h2M752 226h1M769 226h1M809 226h2M261 206h1M352 206h1M358 206h1M360 206h1M383 206h1M394 206h1M407 206h1M419 206h1M515 206h1M592 206h1M598 206h1M611 206h1M614 206h1M618 206h1M632 206h1M761 206h1M789 206h2M803 206h1M827 206h2M851 206h1M485 186h3M682 186h1M731 186h1M747 186h2M794 186h2M863 186h2M866 186h1M873 186h1M903 186h1M520 166h1M529 166h1M714 166h2M726 166h1M745 166h2M808 166h1M843 166h1M858 166h1M875 166h2M903 166h1M448 146h1M646 146h1M734 146h1M823 146h2M835 146h1M858 146h2M878 146h1M885 146h1M928 146h1M279 126h1M418 126h3M489 126h1M763 126h1M856 126h1M906 126h1M908 126h2M963 126h1M690 106h1M784 106h1M806 106h2M866 106h2M243 86h1M281 86h4M295 86h1M325 86h1M351 86h1M591 86h1M728 86h4M768 86h2M823 86h3M853 86h2M878 86h1M892 86h1M895 86h1"/>
<path stroke="#0022ff" d="M534 606h1M865 586h2M833 566h1M880 566h1M905 566h2M923 566h1M549 546h1M722 546h1M784 546h2M885 546h1M893 546h3M901 546h1M909 546h1M591 526h1M616 526h3M624 526h1M635 526h2M659 526h2M700 526h3M774 526h1M820 526h1M855 526h1M1015 526h1M297 506h1M364 506h2M386 506h1M408 506h1M412 506h2M461 506h1M501 506h1M554 506h1M602 506h2M617 506h1M625 506h2M662 506h1M675 506h1M720 506h1M730 506h1M745 506h1M781 506h1M785 506h3M797 506h1M834 506h2M857 506h1M288 486h1M360 486h1M364 486h1M376 486h1M378 486h1M383 486h1M453 486h1M467 486h1M598 486h2M653 486h2M665 486h2M669 486h1M677 486h1M686 486h1M721 486h2M739 486h1M754 486h3M801 486h1M837 486h1M844 486h1M848 486h2M230 466h1M351 466h1M373 466h3M398 466h1M418 466h1M435 466h1M487 466h3M550 466h1M594 466h1M610 466h3M622 466h1M668 466h1M670 466h1M729 466h2M735 466h3M772 466h1M776 466h1M790 466h1M823 466h1M829 466h3M386 446h2M389 446h1M436 446h1M444 446h1M467 446h1M545 446h1M603 446h1M668 446h3M685 446h1M705 446h2M711 446h1M718 446h1M753 446h1M755 446h4M774 446h1M795 446h1M827 446h1M829 446h2M860 446h1M351 426h1M372 426h1M403 426h4M478 426h1M495 426h1M546 426h1M559 426h2M566 426h1M577 426h1M651 426h3M696 426h2M699 426h2M741 426h2M746 426h3M768 426h1M777 426h1M779 426h1M795 426h1M809 426h3M826 426h1M833 426h6M845 426h1M399 406h1M410 406h1M433 406h1M454 406h2M458 406h2M461 406h1M465 406h1M487 406h1M558 406h1M578 406h1M594 406h2M613 406h1M624 406h2M635 406h1M672 406h1M721 406h3M741 406h2M778 406h2M786 406h1M789 406h1M798 406h3M806 406h1M836 406h2M851 406h1M360 386h2M384 386h1M390 386h2M414 386h2M494 386h1M513 386h1M573 386h1M603 386h1M606 386h1M642 386h1M685 386h2M705 386h3M733 386h1M741 386h3M787 386h1M805 386h1M829 386h2M379 366h1M384 366h1M387 366h2M392 366h1M403 366h1M412 366h1M432 366h1M451 366h1M464 366h1M549 366h3M591 366h1M595 366h1M600 366h1M623 366h1M646 366h1M655 366h2M660 366h1M666 366h1M672 366h2M675 366h1M686 366h1M772 366h1M798 366h1M800 366h4M834 366h2M843 366h1M858 366h1M354 346h1M394 346h1M413 346h1M415 346h1M418 346h1M459 346h2M482 346h2M515 346h1M543 346h1M566 346h1M579 346h1M605 346h1M661 346h2M672 346h2M680 346h1M690 346h1M705 346h1M718 346h1M776 346h1M789 346h2M802 346h1M860 346h1M361 326h1M388 326h1M430 326h1M477 326h2M493 326h2M501 326h2M549 326h2M568 326h1M589 326h1M597 326h2M603 326h1M616 326h1M670 326h2M685 326h1M689 326h1M702 326h3M709 326h1M712 326h1M718 326h1M724 326h2M770 326h2M790 326h1M801 326h1M846 326h2M853 326h1M857 326h1M862 326h1M352 306h1M368 306h1M376 306h1M383 306h2M431 306h1M434 306h1M467 306h1M469 306h1M545 306h1M578 306h1M592 306h1M623 306h1M633 306h1M635 306h1M702 306h1M725 306h2M788 306h1M826 306h2M837 306h2M853 306h1M1040 306h1M255 286h2M354 286h3M396 286h1M408 286h2M415 286h1M443 286h2M516 286h1M570 286h1M618 286h3M666 286h1M714 286h1M764 286h1M788 286h1M790 286h1M829 286h1M862 286h1M261 266h2M368 266h2M392 266h2M450 266h1M554 266h1M572 266h1M628 266h1M643 266h1M667 266h1M689 266h1M717 266h1M733 266h2M784 266h2M848 266h1M247 246h1M317 246h1M388 246h1M394 246h1M414 246h1M465 246h2M478 246h1M487 246h1M501 246h1M548 246h1M556 246h3M565 246h1M571 246h1M618 246h1M653 246h3M679 246h1M681 246h1M723 246h1M738 246h1M744 246h1M746 246h1M775 246h1M787 246h3M791 246h1M799 246h1M806 246h4M812 246h1M836 246h1M271 226h1M283 226h2M373 226h1M411 226h1M440 226h2M446 226h1M497 226h2M571 226h1M594 226h1M602 226h1M626 226h1M643 226h1M645 226h2M688 226h1M692 226h1M714 226h2M727 226h1M759 226h2M766 226h1M771 226h1M773 226h2M796 226h2M344 206h1M388 206h3M405 206h1M449 206h1M483 206h1M587 206h1M591 206h1M609 206h1M612 206h2M634 206h1M650 206h1M683 206h1M703 206h1M706 206h1M721 206h1M752 206h1M782 206h1M835 206h1M520 186h1M527 186h1M719 186h1M751 186h1M817 186h1M884 186h1M905 186h1M1034 186h1M530 166h1M690 166h3M824 166h2M855 166h1M868 166h1M880 166h1M892 166h1M825 146h1M856 146h1M903 146h1M915 146h1M919 146h2M931 146h2M934 146h1M937 146h1M931 126h1M1036 126h1M270 106h2M494 106h2M831 106h1M881 106h1M892 106h2M899 106h1M975 106h1M576 86h1M632 86h1M708 86h2M811 86h6M893 86h1M913 86h1M930 86h1M525 666h1"/>
<path stroke="#0036ff" d="M817 606h3M887 566h1M898 566h2M930 566h1M515 546h1M747 546h1M811 546h1M881 546h1M896 546h1M974 546h1M514 526h1M549 526h1M588 526h1M590 526h1M614 526h1M639 526h1M720 526h2M748 526h1M754 526h1M819 526h1M836 526h3M856 526h1M305 506h2M329 506h2M358 506h1M372 506h1M399 506h1M403 506h2M410 506h2M439 506h3M474 506h1M557 506h1M560 506h1M566 506h2M593 506h1M609 506h1M615 506h2M623 506h1M657 506h1M690 506h1M694 506h1M700 506h1M742 506h1M746 506h4M753 506h1M769 506h1M775 506h1M783 506h1M794 506h1M844 506h2M363 486h1M391 486h1M421 486h1M423 486h1M451 486h1M455 486h1M458 486h1M479 486h1M497 486h1M517 486h1M546 486h1M550 486h1M573 486h1M589 486h1M591 486h1M594 486h1M597 486h1M622 486h2M658 486h1M683 486h1M685 486h1M689 486h4M719 486h1M760 486h1M784 486h3M866 486h2M354 466h1M386 466h1M389 466h5M421 466h1M505 466h1M518 466h1M545 466h1M557 466h1M638 466h1M640 466h2M657 466h2M664 466h1M742 466h3M768 466h3M792 466h1M237 446h2M416 446h2M435 446h1M470 446h4M519 446h1M567 446h1M572 446h1M641 446h2M663 446h2M735 446h1M738 446h1M747 446h2M790 446h1M796 446h1M815 446h1M828 446h1M850 446h1M280 426h1M311 426h2M383 426h1M400 426h1M520 426h1M551 426h1M633 426h1M642 426h1M670 426h2M692 426h3M708 426h1M712 426h1M749 426h1M848 426h1M243 406h3M381 406h1M387 406h1M541 406h1M579 406h1M620 406h2M641 406h2M648 406h2M680 406h1M685 406h1M739 406h2M746 406h1M776 406h1M803 406h1M353 386h1M355 386h1M362 386h1M367 386h1M377 386h1M436 386h1M592 386h1M598 386h2M608 386h2M620 386h1M626 386h1M639 386h3M684 386h1M702 386h1M771 386h1M775 386h1M801 386h1M817 386h5M838 386h3M842 386h5M362 366h3M367 366h1M373 366h1M375 366h1M382 366h1M389 366h3M454 366h1M482 366h1M570 366h1M574 366h1M593 366h2M611 366h1M664 366h1M698 366h2M704 366h3M719 366h2M748 366h2M756 366h1M770 366h2M776 366h3M789 366h2M804 366h2M837 366h1M355 346h1M367 346h2M379 346h1M419 346h1M436 346h1M521 346h1M568 346h1M604 346h1M606 346h1M615 346h1M626 346h1M629 346h1M654 346h1M665 346h1M715 346h1M733 346h1M745 346h1M751 346h2M765 346h1M775 346h1M784 346h1M791 346h1M824 346h2M840 346h2M328 326h2M345 326h1M359 326h1M604 326h3M635 326h1M672 326h1M677 326h1M684 326h1M693 326h1M727 326h1M732 326h2M759 326h2M783 326h1M827 326h1M831 326h2M848 326h2M856 326h1M417 306h1M435 306h1M442 306h1M560 306h1M575 306h1M579 306h1M605 306h1M611 306h1M625 306h1M629 306h1M668 306h1M674 306h1M716 306h1M741 306h1M769 306h1M775 306h1M786 306h1M793 306h1M800 306h2M805 306h1M808 306h1M811 306h1M235 286h1M320 286h1M393 286h1M520 286h1M661 286h2M675 286h1M721 286h1M728 286h3M768 286h1M780 286h2M785 286h1M799 286h6M806 286h1M809 286h1M821 286h1M835 286h1M857 286h1M359 266h1M383 266h1M390 266h1M438 266h2M496 266h2M500 266h1M560 266h2M565 266h1M570 266h1M577 266h1M579 266h1M594 266h1M612 266h1M642 266h1M666 266h1M676 266h1M704 266h1M727 266h1M735 266h2M755 266h1M758 266h1M763 266h2M770 266h1M789 266h2M801 266h2M804 266h2M812 266h1M832 266h3M292 246h1M372 246h2M375 246h1M384 246h1M387 246h1M389 246h1M407 246h1M445 246h1M519 246h1M620 246h2M642 246h1M644 246h2M658 246h1M663 246h2M672 246h1M712 246h1M719 246h4M725 246h1M734 246h1M752 246h1M829 246h2M849 246h1M1033 246h1M360 226h1M374 226h1M378 226h2M384 226h1M406 226h1M409 226h1M417 226h1M469 226h1M482 226h1M518 226h1M548 226h1M597 226h1M617 226h1M627 226h1M642 226h1M666 226h1M670 226h1M718 226h1M733 226h1M776 226h1M788 226h1M795 226h1M812 226h1M833 226h2M404 206h1M413 206h1M425 206h1M477 206h2M586 206h1M590 206h1M658 206h1M684 206h2M730 206h3M741 206h2M745 206h1M756 206h1M780 206h1M801 206h2M816 206h1M841 206h2M844 206h1M852 206h2M802 186h1M871 186h1M898 186h1M921 186h1M964 186h1M877 166h1M887 166h2M891 166h1M342 146h1M764 146h1M884 146h1M921 146h1M941 146h1M967 146h1M811 126h1M914 126h1M935 126h2M962 106h1M1008 106h1M549 86h2M869 86h1M875 86h2M886 86h1M919 86h1"/>
<path stroke="#004bff" d="M850 586h2M1007 586h1M883 566h1M890 566h1M941 566h1M834 546h1M876 546h2M882 546h1M889 546h1M915 546h1M918 546h1M930 546h1M575 526h1M589 526h1M609 526h1M707 526h2M735 526h1M784 526h2M802 526h1M810 526h1M1014 526h1M252 506h2M384 506h1M395 506h4M405 506h1M420 506h1M422 506h1M435 506h2M558 506h1M590 506h1M631 506h1M641 506h1M676 506h1M713 506h2M791 506h1M817 506h1M821 506h2M826 506h1M832 506h1M870 506h1M874 506h1M336 486h1M361 486h1M392 486h1M407 486h2M422 486h1M468 486h1M482 486h1M555 486h1M562 486h1M571 486h2M574 486h1M588 486h1M592 486h1M651 486h1M706 486h1M729 486h1M731 486h3M735 486h1M763 486h2M769 486h1M816 486h1M820 486h3M836 486h1M845 486h1M852 486h2M356 466h1M413 466h1M422 466h1M445 466h1M575 466h1M589 466h1M593 466h1M609 466h1M636 466h1M659 466h2M672 466h1M676 466h2M690 466h3M697 466h1M745 466h2M751 466h1M761 466h1M767 466h1M825 466h4M850 466h1M282 446h2M366 446h1M393 446h2M406 446h2M446 446h3M498 446h1M556 446h2M570 446h2M576 446h1M591 446h1M598 446h3M615 446h1M693 446h2M722 446h1M731 446h1M778 446h1M794 446h1M808 446h4M814 446h1M856 446h1M441 426h2M514 426h2M542 426h1M565 426h1M578 426h1M613 426h1M641 426h1M656 426h1M663 426h2M674 426h2M688 426h1M732 426h1M803 426h2M815 426h1M846 426h2M849 426h1M854 426h1M378 406h1M382 406h1M384 406h1M390 406h1M432 406h1M462 406h2M521 406h1M575 406h1M602 406h1M614 406h1M628 406h1M646 406h2M650 406h4M724 406h1M737 406h1M754 406h2M758 406h1M766 406h1M812 406h1M817 406h1M823 406h1M421 386h1M477 386h1M661 386h2M670 386h1M676 386h1M693 386h2M736 386h1M738 386h1M754 386h1M807 386h1M837 386h1M847 386h1M857 386h1M368 366h1M380 366h2M393 366h1M405 366h1M413 366h1M416 366h1M433 366h1M604 366h1M645 366h1M658 366h2M663 366h1M677 366h1M681 366h1M692 366h3M702 366h1M711 366h1M721 366h1M732 366h1M738 366h1M750 366h1M758 366h4M799 366h1M814 366h3M825 366h2M829 366h1M842 366h1M853 366h1M375 346h1M378 346h1M429 346h1M614 346h1M652 346h2M667 346h1M758 346h1M764 346h1M798 346h2M816 346h1M818 346h2M837 346h1M866 346h1M346 326h1M355 326h1M365 326h1M394 326h1M508 326h1M573 326h1M609 326h1M613 326h1M623 326h2M645 326h1M676 326h1M756 326h1M782 326h1M785 326h1M803 326h5M809 326h1M820 326h1M843 326h1M850 326h2M369 306h2M392 306h2M454 306h2M473 306h1M569 306h1M590 306h2M612 306h1M664 306h3M675 306h1M711 306h5M721 306h4M733 306h1M746 306h4M784 306h1M828 306h2M317 286h1M376 286h1M395 286h1M411 286h1M413 286h1M423 286h1M437 286h1M472 286h1M576 286h1M607 286h1M640 286h2M710 286h1M731 286h2M743 286h1M745 286h2M759 286h1M773 286h2M782 286h1M787 286h1M819 286h1M833 286h2M350 266h2M376 266h1M379 266h1M408 266h2M417 266h1M458 266h1M515 266h1M571 266h1M578 266h1M580 266h1M592 266h2M611 266h1M619 266h1M637 266h1M670 266h1M677 266h1M720 266h1M742 266h2M816 266h1M826 266h2M353 246h1M396 246h1M410 246h1M603 246h1M609 246h2M632 246h1M640 246h2M652 246h1M693 246h1M706 246h1M708 246h4M724 246h1M739 246h2M742 246h1M751 246h1M762 246h2M776 246h1M779 246h1M813 246h1M817 246h1M819 246h1M824 246h1M363 226h1M369 226h1M386 226h1M389 226h1M412 226h1M433 226h1M558 226h1M610 226h1M615 226h1M633 226h3M659 226h1M685 226h1M689 226h1M770 226h1M775 226h1M777 226h1M799 226h1M804 226h1M813 226h1M353 206h1M382 206h1M408 206h2M417 206h1M422 206h3M426 206h2M585 206h1M589 206h1M599 206h3M649 206h1M688 206h2M724 206h1M726 206h1M750 206h2M753 206h3M772 206h1M804 206h3M833 206h2M836 206h1M845 206h1M881 206h2M533 186h1M818 186h2M926 186h1M988 186h1M772 166h1M908 166h1M947 166h2M954 166h1M864 146h1M914 146h1M922 146h1M939 146h2M944 146h1M968 146h1M979 146h3M855 126h1M966 126h1M847 106h1M868 106h2M876 106h1M885 106h1M940 106h1M998 106h1M938 86h1"/>
<path stroke="#005fff" d="M923 606h1M952 606h1M545 586h3M976 586h2M867 566h3M927 566h1M932 566h3M995 566h1M1031 566h1M845 546h1M852 546h1M880 546h1M922 546h1M973 546h1M644 526h1M654 526h2M695 526h1M750 526h2M842 526h1M891 526h1M923 526h1M931 526h1M970 526h1M385 506h1M448 506h3M547 506h1M553 506h1M565 506h1M577 506h1M580 506h1M598 506h2M635 506h2M644 506h1M666 506h1M731 506h1M766 506h1M768 506h1M811 506h2M829 506h2M837 506h3M860 506h1M265 486h1M415 486h1M420 486h1M424 486h1M435 486h1M558 486h1M575 486h1M590 486h1M616 486h2M638 486h1M684 486h1M694 486h3M744 486h1M823 486h1M825 486h2M854 486h2M353 466h1M381 466h1M561 466h2M633 466h1M678 466h1M710 466h1M732 466h1M739 466h1M816 466h2M843 466h1M853 466h1M857 466h2M431 446h2M554 446h2M565 446h2M577 446h1M619 446h1M635 446h2M702 446h1M732 446h1M759 446h3M776 446h1M783 446h2M789 446h1M831 446h1M836 446h1M845 446h1M382 426h1M396 426h1M417 426h1M439 426h2M570 426h1M627 426h1M639 426h2M695 426h1M705 426h1M710 426h1M719 426h2M760 426h1M774 426h1M792 426h2M799 426h2M812 426h3M828 426h1M831 426h1M839 426h1M843 426h1M850 426h1M355 406h1M368 406h2M379 406h1M400 406h2M548 406h1M566 406h2M623 406h1M654 406h1M661 406h1M664 406h2M684 406h1M747 406h4M761 406h4M796 406h2M809 406h3M816 406h1M826 406h2M838 406h1M843 406h1M862 406h1M379 386h1M416 386h3M422 386h1M435 386h1M468 386h1M503 386h1M611 386h2M621 386h2M627 386h1M660 386h1M709 386h1M727 386h2M773 386h2M813 386h1M816 386h1M369 366h1M395 366h1M400 366h1M444 366h3M541 366h1M580 366h1M590 366h1M602 366h2M607 366h1M667 366h2M729 366h2M754 366h1M773 366h1M808 366h2M831 366h1M839 366h3M847 366h1M855 366h1M902 366h1M376 346h2M385 346h1M387 346h1M406 346h1M408 346h1M416 346h1M421 346h1M423 346h1M428 346h1M439 346h1M569 346h1M575 346h1M578 346h1M611 346h1M637 346h2M670 346h1M679 346h1M741 346h3M780 346h1M801 346h1M817 346h1M834 346h1M864 346h1M349 326h1M357 326h1M363 326h2M385 326h1M543 326h1M578 326h1M587 326h1M637 326h1M656 326h2M678 326h1M683 326h1M744 326h1M761 326h3M772 326h2M814 326h1M834 326h2M860 326h1M358 306h1M387 306h1M396 306h2M580 306h1M602 306h1M608 306h1M643 306h6M655 306h1M680 306h2M693 306h1M744 306h2M803 306h1M812 306h1M815 306h1M831 306h1M842 306h1M858 306h1M352 286h2M392 286h1M414 286h1M431 286h1M552 286h1M556 286h2M577 286h1M597 286h2M684 286h1M713 286h1M722 286h1M738 286h3M748 286h1M815 286h1M843 286h1M313 266h1M374 266h1M391 266h1M394 266h1M588 266h1M591 266h1M616 266h1M680 266h1M690 266h1M699 266h1M701 266h1M722 266h1M783 266h1M786 266h3M793 266h1M819 266h1M860 266h1M395 246h1M493 246h1M546 246h1M553 246h2M594 246h2M611 246h1M619 246h1M671 246h1M729 246h1M777 246h2M805 246h1M814 246h1M832 246h1M834 246h1M838 246h1M367 226h1M370 226h1M396 226h2M511 226h1M578 226h1M593 226h1M628 226h1M750 226h2M778 226h1M811 226h1M822 226h3M828 226h1M837 226h2M858 226h1M361 206h1M368 206h1M371 206h1M393 206h1M547 206h1M603 206h1M617 206h1M651 206h2M746 206h1M763 206h1M830 206h1M862 206h1M1017 206h1M528 186h2M531 186h1M850 186h1M915 186h1M936 186h1M972 186h1M846 166h2M865 166h1M897 166h1M916 166h2M971 146h1M879 126h1M882 126h2M977 126h2M890 106h1M895 106h1M788 86h5M852 86h1M939 86h1M946 86h2M952 86h1M957 86h1"/>
<path stroke="#0073ff" d="M933 606h3M914 586h2M917 586h1M949 586h4M897 566h1M901 566h1M913 566h2M866 546h1M890 546h1M897 546h1M907 546h1M921 546h1M564 526h1M580 526h1M593 526h1M679 526h1M689 526h1M786 526h1M813 526h2M826 526h1M835 526h1M861 526h1M871 526h3M377 506h2M417 506h1M551 506h2M600 506h2M605 506h2M608 506h1M667 506h1M677 506h2M695 506h1M702 506h3M831 506h1M848 506h1M852 506h1M861 506h1M380 486h2M396 486h1M412 486h1M425 486h1M434 486h1M570 486h1M578 486h1M587 486h1M593 486h1M637 486h1M711 486h2M737 486h2M780 486h1M787 486h1M794 486h1M810 486h2M834 486h2M371 466h2M376 466h1M388 466h1M397 466h1M432 466h1M485 466h1M579 466h1M592 466h1M628 466h1M765 466h2M809 466h2M839 466h1M363 446h2M374 446h1M404 446h1M543 446h1M578 446h1M590 446h1M610 446h2M622 446h1M660 446h3M684 446h1M700 446h1M737 446h1M368 426h1M377 426h2M386 426h1M438 426h1M492 426h3M544 426h1M561 426h1M594 426h1M634 426h1M658 426h1M660 426h2M706 426h1M721 426h3M726 426h2M761 426h2M767 426h1M780 426h2M808 426h1M829 426h1M359 406h1M412 406h5M420 406h1M668 406h1M709 406h1M731 406h1M784 406h1M787 406h2M793 406h1M813 406h1M841 406h1M853 406h2M392 386h1M419 386h1M431 386h1M515 386h1M541 386h2M554 386h1M570 386h1M588 386h1M591 386h1M618 386h2M643 386h1M655 386h1M720 386h1M739 386h1M750 386h1M836 386h1M841 386h1M360 366h1M376 366h1M522 366h1M567 366h3M575 366h1M589 366h1M811 366h1M380 346h2M542 346h1M588 346h1M600 346h1M759 346h2M762 346h2M793 346h1M865 346h1M373 326h1M376 326h1M382 326h2M398 326h3M421 326h1M521 326h1M574 326h1M579 326h1M588 326h1M595 326h1M652 326h2M729 326h1M769 326h1M793 326h1M802 326h1M815 326h1M852 326h1M885 326h3M386 306h1M388 306h2M391 306h1M412 306h2M418 306h2M452 306h1M563 306h2M596 306h1M618 306h1M662 306h2M672 306h1M739 306h1M774 306h1M779 306h1M781 306h1M791 306h2M813 306h1M854 306h1M859 306h1M420 286h1M545 286h1M571 286h1M578 286h2M589 286h1M653 286h1M658 286h1M660 286h1M674 286h1M695 286h2M698 286h1M715 286h2M753 286h1M762 286h1M810 286h1M354 266h3M375 266h1M387 266h1M395 266h1M405 266h2M546 266h1M622 266h2M654 266h2M681 266h2M702 266h1M705 266h1M715 266h1M723 266h1M750 266h2M773 266h1M778 266h1M822 266h1M369 246h1M398 246h2M401 246h1M415 246h1M578 246h1M593 246h1M659 246h4M781 246h2M811 246h1M826 246h1M861 246h1M349 226h1M357 226h1M376 226h2M572 226h1M591 226h2M648 226h1M680 226h2M728 226h3M742 226h1M798 226h1M831 226h2M835 226h1M852 226h1M410 206h3M561 206h1M582 206h2M677 206h1M691 206h1M697 206h1M735 206h1M837 206h4M859 206h3M913 206h1M868 186h2M916 186h1M930 186h1M958 186h1M957 166h1M908 146h1M930 146h1M959 146h1M894 126h1M907 126h1M915 126h1M930 126h1M938 126h1M944 126h1M948 126h1M976 126h1M997 126h1M922 106h2M936 106h1M984 106h1M900 86h2M983 86h1"/>
<path stroke="#0088ff" d="M1013 606h1M922 586h1M956 586h1M980 586h1M1003 586h1M519 566h1M893 566h1M902 566h1M950 566h1M953 566h1M965 546h3M996 546h1M548 526h1M581 526h1M688 526h1M804 526h1M824 526h1M839 526h3M864 526h2M868 526h1M874 526h3M895 526h1M908 526h1M947 526h1M425 506h1M430 506h1M581 506h1M592 506h1M607 506h1M679 506h1M699 506h1M744 506h1M780 506h1M792 506h1M798 506h1M819 506h2M859 506h1M862 506h1M382 486h1M404 486h1M406 486h1M426 486h1M577 486h1M643 486h1M663 486h1M681 486h2M713 486h1M717 486h1M766 486h1M793 486h1M808 486h1M818 486h2M830 486h1M858 486h1M588 466h1M621 466h1M675 466h1M701 466h2M716 466h1M738 466h1M747 466h1M785 466h2M793 466h1M835 466h1M837 466h1M860 466h1M362 446h1M401 446h2M434 446h1M604 446h1M683 446h1M812 446h2M817 446h3M841 446h1M370 426h2M392 426h2M593 426h1M614 426h1M690 426h1M734 426h1M738 426h1M753 426h1M770 426h2M782 426h1M784 426h1M861 426h2M380 406h1M394 406h2M397 406h1M587 406h1M690 406h1M842 406h1M852 406h1M370 386h1M399 386h1M406 386h1M420 386h1M430 386h1M514 386h1M522 386h1M540 386h1M572 386h1M579 386h1M589 386h1M851 386h2M858 386h2M385 366h2M398 366h1M430 366h2M484 366h2M577 366h1M581 366h1M679 366h1M727 366h2M787 366h1M848 366h3M860 366h1M938 366h1M401 346h1M422 346h1M432 346h1M560 346h1M580 346h1M628 346h1M639 346h1M684 346h2M701 346h1M823 346h1M835 346h2M851 346h2M859 346h1M983 346h2M374 326h1M384 326h1M387 326h1M567 326h1M575 326h1M594 326h1M682 326h1M710 326h1M792 326h1M817 326h2M821 326h3M826 326h1M976 326h1M323 306h1M371 306h2M379 306h1M416 306h1M420 306h1M430 306h1M587 306h1M604 306h1M641 306h1M676 306h1M682 306h1M720 306h1M737 306h1M755 306h1M794 306h1M849 306h3M382 286h2M390 286h1M430 286h1M559 286h1M567 286h1M631 286h1M685 286h1M688 286h1M724 286h1M783 286h1M786 286h1M820 286h1M827 286h1M399 266h1M404 266h1M520 266h1M590 266h1M629 266h1M709 266h2M749 266h1M752 266h3M780 266h2M807 266h1M823 266h3M842 266h1M855 266h2M358 246h1M370 246h2M381 246h1M385 246h1M397 246h1M416 246h3M592 246h1M649 246h1M682 246h1M748 246h1M831 246h1M848 246h1M862 246h1M1032 246h1M413 226h1M575 226h1M587 226h1M758 226h1M792 226h2M800 226h2M829 226h2M840 226h1M846 226h1M853 226h1M857 226h1M384 206h1M396 206h1M400 206h1M584 206h1M641 206h1M682 206h1M855 206h1M917 206h3M950 206h1M1022 206h1M872 186h1M883 166h1M918 166h2M888 146h1M834 126h3M897 126h1M917 126h3M955 126h1M974 126h1M995 126h1M894 106h1M903 106h1M915 106h1M924 106h1M1020 106h1M902 86h1M920 86h1M945 86h1"/>
<path stroke="#00a0ff" d="M1014 606h2M921 586h1M546 566h1M919 566h1M973 566h1M548 546h1M924 546h1M941 546h1M557 526h1M587 526h1M611 526h1M815 526h1M844 526h1M886 526h1M900 526h1M911 526h1M914 526h1M935 526h1M388 506h1M393 506h1M402 506h1M414 506h1M431 506h1M516 506h1M561 506h1M591 506h1M630 506h1M681 506h1M855 506h1M866 506h1M368 486h1M433 486h1M545 486h1M606 486h1M620 486h1M842 486h2M387 466h1M425 466h1M544 466h1M581 466h1M591 466h1M606 466h2M620 466h1M630 466h1M637 466h1M651 466h1M834 466h1M378 446h2M385 446h1M409 446h1M433 446h1M573 446h1M588 446h2M605 446h1M607 446h1M653 446h3M690 446h1M695 446h2M765 446h2M777 446h1M797 446h2M863 446h1M373 426h1M419 426h1M434 426h1M517 426h1M541 426h1M785 426h2M806 426h2M816 426h1M377 406h1M396 406h1M409 406h1M421 406h1M430 406h1M612 406h1M626 406h1M683 406h1M708 406h1M771 406h1M857 406h1M859 406h3M995 406h1M380 386h2M407 386h1M565 386h2M586 386h2M590 386h1M605 386h1M656 386h3M683 386h1M769 386h1M796 386h2M854 386h2M870 386h1M372 366h1M411 366h1M424 366h2M588 366h1M653 366h1M676 366h1M735 366h2M757 366h1M854 366h1M1008 366h1M399 346h2M430 346h1M586 346h1M610 346h1M660 346h1M750 346h1M766 346h2M795 346h1M853 346h1M867 346h1M378 326h1M408 326h2M422 326h1M424 326h1M428 326h1M569 326h1M593 326h1M617 326h1M780 326h2M808 326h1M819 326h1M829 326h1M836 326h1M838 326h4M861 326h1M1009 326h1M410 306h2M429 306h1M433 306h1M521 306h1M544 306h1M673 306h1M696 306h1M734 306h3M843 306h1M864 306h1M869 306h1M384 286h1M391 286h1M394 286h1M421 286h2M432 286h1M580 286h1M590 286h1M614 286h1M617 286h1M638 286h2M650 286h1M719 286h1M754 286h1M826 286h1M845 286h1M370 266h1M389 266h1M397 266h2M419 266h1M429 266h1M545 266h1M674 266h1M744 266h4M774 266h1M782 266h1M792 266h1M829 266h1M843 266h2M850 266h1M857 266h1M386 246h1M421 246h1M517 246h1M575 246h1M648 246h1M707 246h1M820 246h4M825 246h1M846 246h1M850 246h1M423 226h1M428 226h1M519 226h1M552 226h1M576 226h1M675 226h1M704 226h1M708 226h1M748 226h1M781 226h1M791 226h1M820 226h2M844 226h1M848 226h1M580 206h1M814 206h1M831 206h1M843 206h1M847 206h2M894 206h1M907 206h1M963 206h1M532 186h1M886 186h1M1003 186h1M1007 186h1M962 166h1M942 146h1M993 146h1M901 126h1M940 126h3M964 126h1M993 126h1M857 106h1M900 106h1M994 106h1M882 86h1M894 86h1"/>
<path stroke="#00b8ff" d="M1008 626h1M977 606h2M898 586h1M996 586h1M895 566h1M922 566h1M939 566h2M1002 566h1M936 546h1M1011 546h1M586 526h1M845 526h1M853 526h2M862 526h1M880 526h1M885 526h1M896 526h1M929 526h1M945 526h2M1011 526h2M392 506h1M429 506h1M555 506h1M579 506h1M597 506h1M640 506h1M801 506h4M825 506h1M863 506h2M393 486h1M429 486h1M582 486h1M615 486h1M740 486h1M783 486h1M383 466h1M430 466h1M570 466h2M582 466h1M603 466h1M796 466h1M819 466h1M836 466h1M842 466h1M867 466h1M397 446h1M423 446h1M651 446h2M745 446h2M749 446h1M762 446h1M837 446h2M846 446h1M849 446h1M857 446h3M864 446h2M387 426h1M549 426h1M628 426h1M687 426h1M791 426h1M841 426h2M540 406h1M630 406h1M804 406h1M808 406h1M818 406h4M844 406h1M858 406h1M863 406h1M867 406h1M915 406h1M364 386h1M375 386h2M395 386h2M429 386h1M545 386h1M563 386h1M580 386h1M782 386h1M792 386h1M812 386h1M824 386h1M862 386h1M1015 386h1M374 366h1M394 366h1M417 366h1M716 366h3M726 366h1M733 366h2M806 366h1M836 366h1M856 366h1M859 366h1M862 366h2M869 366h1M388 346h3M397 346h2M426 346h1M577 346h1M581 346h1M585 346h1M599 346h1M842 346h2M847 346h2M856 346h1M861 346h1M951 346h1M975 346h1M993 346h1M1014 346h1M397 326h1M427 326h1M687 326h1M774 326h1M842 326h1M844 326h2M854 326h1M863 326h1M928 326h1M985 326h1M999 326h1M1018 326h1M390 306h1M421 306h1M567 306h1M574 306h1M586 306h1M616 306h2M832 306h1M848 306h1M855 306h1M870 306h1M906 306h1M928 306h1M1020 306h1M373 286h1M399 286h1M429 286h1M588 286h1M694 286h1M735 286h3M752 286h1M811 286h2M842 286h1M876 286h1M396 266h1M401 266h1M403 266h1M420 266h1M589 266h1M597 266h1M606 266h1M673 266h1M675 266h1M775 266h2M837 266h3M852 266h1M430 246h1M576 246h2M591 246h1M606 246h1M688 246h1M737 246h1M783 246h1M828 246h1M851 246h3M394 226h2M421 226h1M427 226h1M432 226h1M547 226h1M568 226h2M586 226h1M604 226h1M620 226h1M632 226h1M679 226h1M789 226h1M845 226h1M519 206h1M581 206h1M594 206h1M678 206h1M933 206h1M949 206h1M957 206h2M982 206h1M990 206h1M998 206h2M1011 206h1M1018 206h1M909 186h1M922 166h2M930 166h1M977 166h2M983 166h1M966 146h1M943 126h1M952 126h1M986 126h1M990 126h2M928 86h2M940 86h2M969 86h1"/>
<path stroke="#00d1ff" d="M936 586h2M942 586h2M998 586h1M920 566h1M904 546h1M916 546h1M923 546h1M980 546h2M993 546h1M863 526h1M869 526h2M937 526h1M957 526h2M988 526h1M1009 526h1M421 506h1M833 506h1M858 506h1M944 506h1M410 486h1M428 486h1M778 486h2M782 486h1M799 486h2M839 486h1M850 486h1M856 486h1M861 486h1M364 466h2M396 466h1M583 466h1M794 466h2M798 466h3M844 466h1M854 466h2M579 446h1M581 446h1M632 446h1M823 446h1M826 446h1M839 446h1M853 446h1M376 426h1M422 426h1M430 426h1M592 426h1M604 426h1M610 426h1M686 426h1M801 426h1M817 426h1M825 426h1M840 426h1M855 426h2M863 426h1M388 406h1M422 406h1M429 406h1M581 406h1M675 406h1M825 406h1M839 406h2M868 406h1M923 406h1M938 406h1M372 386h3M428 386h1M716 386h1M765 386h1M791 386h1M809 386h1M814 386h1M822 386h2M863 386h2M867 386h1M873 386h1M426 366h1M578 366h1M582 366h1M586 366h2M671 366h1M745 366h2M810 366h1M827 366h2M845 366h1M864 366h1M867 366h1M910 366h1M427 346h1M582 346h1M587 346h1M589 346h1M888 346h1M918 346h1M988 346h2M425 326h2M429 326h1M686 326h1M830 326h1M855 326h1M864 326h2M882 326h1M1002 326h1M1007 326h2M407 306h1M565 306h2M585 306h1M607 306h1M626 306h2M683 306h1M790 306h1M814 306h1M833 306h4M856 306h1M868 306h1M357 286h1M398 286h1M400 286h1M428 286h1M566 286h1M581 286h1M587 286h1M591 286h1M596 286h1M637 286h1M701 286h1M813 286h1M853 286h1M863 286h2M428 266h1M430 266h1M607 266h1M624 266h2M671 266h2M769 266h1M846 266h2M376 246h1M420 246h1M422 246h1M579 246h1M600 246h1M607 246h1M613 246h2M686 246h2M704 246h2M717 246h1M765 246h2M871 246h2M408 226h1M424 226h1M577 226h1M585 226h1M590 226h1M761 226h1M790 226h1M819 226h1M841 226h3M859 226h1M862 226h1M593 206h1M826 206h1M854 206h1M864 206h1M869 206h1M871 206h1M876 206h3M887 206h1M891 206h1M530 186h1M907 186h1M934 186h1M950 186h1M960 186h1M934 166h1M984 166h1M1001 166h1M1016 166h1M943 146h1M950 146h1M997 146h1M999 146h1M907 106h1M921 106h1M970 106h1M887 86h1"/>
<path stroke="#00e9ff" d="M919 586h1M944 586h3M958 586h1M966 586h1M1005 586h1M963 566h1M971 566h1M998 566h1M516 546h1M948 546h1M979 546h1M1003 546h1M795 526h1M887 526h1M942 526h2M956 526h1M961 526h1M977 526h1M381 506h1M423 506h1M546 506h1M589 506h1M624 506h1M841 506h2M851 506h1M877 506h1M432 486h1M518 486h1M583 486h1M789 486h1M832 486h2M846 486h1M426 466h1M429 466h1M587 466h1M801 466h1M856 466h1M424 446h1M428 446h1M542 446h1M834 446h2M840 446h1M843 446h2M854 446h2M423 426h1M433 426h1M580 426h1M588 426h1M802 426h1M827 426h1M852 426h1M857 426h1M887 426h1M913 426h1M924 426h1M977 426h1M580 406h1M677 406h1M792 406h1M847 406h1M855 406h1M869 406h1M945 406h1M970 406h3M427 386h1M581 386h1M849 386h1M865 386h1M872 386h1M919 386h1M953 386h1M1006 386h1M540 366h1M558 366h1M583 366h3M785 366h1M857 366h1M868 366h1M888 366h1M904 366h1M931 366h2M959 366h1M970 366h1M420 346h1M424 346h2M541 346h1M583 346h2M796 346h2M831 346h2M904 346h1M914 346h1M934 346h1M946 346h3M994 346h1M1017 346h1M353 326h1M368 326h1M419 326h1M423 326h1M542 326h1M562 326h1M581 326h1M586 326h1M741 326h1M869 326h1M872 326h1M883 326h1M918 326h2M978 326h2M987 326h1M543 306h1M581 306h2M589 306h1M678 306h1M685 306h1M789 306h1M846 306h1M862 306h1M873 306h1M955 306h1M359 286h1M419 286h1M544 286h1M682 286h2M687 286h1M847 286h1M854 286h1M858 286h1M867 286h1M871 286h1M372 266h2M423 266h1M587 266h1M610 266h1M813 266h1M828 266h1M849 266h1M964 266h1M405 246h1M428 246h1M545 246h1M580 246h1M612 246h1M680 246h1M773 246h2M784 246h1M818 246h1M827 246h1M854 246h1M422 226h1M425 226h2M579 226h1M671 226h1M767 226h1M847 226h1M851 226h1M866 226h1M558 206h1M885 206h1M906 206h1M909 206h1M922 206h2M935 206h2M940 206h1M969 206h1M987 206h1M995 206h1M1019 206h1M890 186h1M906 166h1M956 166h1M904 146h1M954 146h1M987 146h1M1022 146h1M939 126h1M979 126h1M908 106h1M997 106h1M918 86h1M951 86h1M993 86h3"/>
<path stroke="#00fffe" d="M960 586h1M970 586h2M1002 586h1M976 566h1M978 546h1M991 546h1M779 526h2M859 526h2M878 526h1M881 526h4M897 526h1M903 526h2M925 526h1M936 526h1M941 526h1M944 526h1M980 526h2M987 526h1M1002 526h1M1004 526h2M382 506h1M426 506h1M578 506h1M588 506h1M610 506h1M843 506h1M850 506h1M886 506h1M401 486h1M427 486h1M584 486h1M795 486h1M828 486h1M847 486h1M857 486h1M864 486h1M428 466h1M580 466h1M590 466h1M791 466h1M845 466h1M892 466h1M425 446h1M580 446h1M583 446h2M587 446h1M408 426h1M428 426h2M521 426h1M579 426h1M681 426h1M794 426h1M822 426h2M884 426h1M902 426h1M373 406h1M423 406h1M425 406h1M428 406h1M522 406h1M610 406h2M773 406h1M870 406h2M889 406h1M932 406h1M942 406h1M950 406h1M987 406h1M1002 406h2M356 386h1M614 386h1M833 386h2M850 386h1M927 386h1M615 366h1M636 366h2M795 366h2M928 366h2M935 366h1M979 366h1M988 366h2M1022 366h1M838 346h2M878 346h2M919 346h1M935 346h1M970 346h2M974 346h1M1003 346h1M369 326h2M570 326h3M580 326h1M582 326h1M585 326h1M858 326h1M871 326h1M873 326h1M879 326h1M895 326h1M929 326h1M934 326h4M941 326h1M946 326h1M948 326h1M998 326h1M1020 326h1M427 306h2M588 306h1M684 306h1M820 306h5M847 306h1M852 306h1M962 306h2M1019 306h1M427 286h1M521 286h1M586 286h1M742 286h1M772 286h1M775 286h2M795 286h1M832 286h1M839 286h1M855 286h2M890 286h1M904 286h1M402 266h1M416 266h1M418 266h1M424 266h1M432 266h1M795 266h1M803 266h1M815 266h1M835 266h2M391 246h3M520 246h1M588 246h1M590 246h1M604 246h1M694 246h2M785 246h2M382 226h1M546 226h1M582 226h3M588 226h2M783 226h1M850 226h1M867 226h1M882 226h1M546 206h1M659 206h1M868 206h1M892 206h1M920 206h2M927 206h4M953 206h1M966 206h3M970 206h3M989 206h1M1000 206h1M1021 206h1M917 186h2M945 186h1M994 186h2M1010 186h1M935 166h1M979 166h1M1009 166h1M924 146h1M976 146h1M1024 146h1M923 126h1M927 126h1M947 106h1M968 106h1M921 86h1M937 86h1M958 86h2M971 86h1M979 86h2"/>
<path stroke="#00ffe9" d="M978 586h1M520 566h1M972 566h1M919 546h1M515 526h1M584 526h1M867 526h1M893 526h2M922 526h1M939 526h1M952 526h1M966 526h1M973 526h1M983 526h2M989 526h1M1008 526h1M1021 526h1M361 506h2M424 506h1M427 506h2M545 506h1M582 506h1M611 506h3M926 506h2M936 506h1M1009 506h2M1017 506h1M370 486h1M431 486h1M544 486h1M581 486h1M586 486h1M869 486h1M998 486h1M399 466h1M519 466h1M543 466h1M585 466h2M846 466h1M851 466h2M859 466h1M862 466h2M866 466h1M868 466h1M430 446h1M520 446h1M586 446h1M833 446h1M1011 446h2M540 426h1M581 426h1M583 426h1M587 426h1M797 426h1M870 426h1M901 426h1M1018 426h1M372 406h1M426 406h2M539 406h1M585 406h2M782 406h1M835 406h1M865 406h2M872 406h1M918 406h1M947 406h1M979 406h1M998 406h1M539 386h1M582 386h1M585 386h1M802 386h1M826 386h1M957 386h1M964 386h1M396 366h1M428 366h1M610 366h1M614 366h1M844 366h1M891 366h1M921 366h1M955 366h1M957 366h1M975 366h1M1000 366h1M1013 366h2M1025 366h1M522 346h1M681 346h2M873 346h3M882 346h1M884 346h1M903 346h1M906 346h1M909 346h2M915 346h2M920 346h1M923 346h5M954 346h1M962 346h1M981 346h1M371 326h2M583 326h2M654 326h1M794 326h1M859 326h1M874 326h3M884 326h1M890 326h1M893 326h1M908 326h5M916 326h2M933 326h1M958 326h1M960 326h1M982 326h1M990 326h1M1012 326h1M1022 326h1M583 306h2M634 306h1M857 306h1M860 306h1M914 306h1M956 306h1M988 306h1M388 286h1M424 286h3M574 286h1M777 286h1M859 286h1M869 286h2M1034 286h1M407 266h1M544 266h1M614 266h2M830 266h1M365 246h2M427 246h1M581 246h1M692 246h1M841 246h3M858 246h1M870 246h1M383 226h1M580 226h2M825 226h2M1010 226h1M545 206h1M686 206h1M775 206h1M849 206h2M856 206h2M865 206h1M875 206h1M886 206h1M889 206h2M910 206h2M926 206h1M931 206h2M947 206h2M954 206h1M988 206h1M992 206h1M1008 206h1M897 186h1M923 186h3M913 166h1M944 166h1M952 166h1M956 146h1M962 146h1M977 146h1M1011 146h1M1025 146h1M973 126h1M973 106h1M903 86h2M908 86h1M949 86h1M978 86h1M997 86h1M1003 86h1"/>
<path stroke="#00ffd4" d="M955 606h1M931 586h1M972 586h1M987 586h2M545 566h1M956 566h1M546 546h2M932 546h1M934 546h1M956 546h1M962 546h1M982 546h2M994 546h1M898 526h1M902 526h1M905 526h3M917 526h5M940 526h1M964 526h2M971 526h1M991 526h1M993 526h1M998 526h1M1001 526h1M1010 526h1M1022 526h1M583 506h1M587 506h1M891 506h2M915 506h1M929 506h1M988 506h1M993 506h1M1008 506h1M1011 506h1M430 486h1M788 486h1M827 486h1M863 486h1M431 466h1M584 466h1M758 466h3M847 466h1M865 466h1M1002 466h1M1012 466h1M582 446h1M585 446h1M424 426h1M426 426h1M584 426h1M586 426h1M589 426h1M680 426h1M920 426h1M985 426h1M424 406h1M582 406h1M584 406h1M695 406h1M780 406h1M783 406h1M850 406h1M919 406h1M929 406h1M935 406h1M940 406h2M943 406h1M988 406h1M992 406h2M999 406h1M423 386h1M583 386h2M883 386h1M914 386h1M939 386h1M427 366h1M429 366h1M539 366h1M683 366h1M883 366h2M907 366h1M920 366h1M930 366h1M944 366h1M950 366h1M953 366h2M974 366h1M980 366h2M986 366h1M990 366h1M998 366h1M1001 366h1M876 346h1M883 346h1M891 346h1M908 346h1M911 346h1M932 346h1M952 346h1M955 346h1M960 346h1M972 346h1M992 346h1M1000 346h1M1002 346h1M1018 346h2M541 326h1M888 326h2M903 326h1M907 326h1M921 326h1M924 326h1M930 326h1M938 326h1M940 326h1M959 326h1M975 326h1M992 326h2M1013 326h1M425 306h2M861 306h1M867 306h1M872 306h1M881 306h1M902 306h2M920 306h1M954 306h1M1012 306h1M543 286h1M575 286h1M583 286h1M585 286h1M616 286h1M844 286h1M848 286h5M860 286h2M872 286h1M1006 286h1M1013 286h2M581 266h1M586 266h1M613 266h1M818 266h1M851 266h1M854 266h1M367 246h2M426 246h1M587 246h1M718 246h1M835 246h1M859 246h2M867 246h1M905 246h1M921 246h1M931 246h2M401 226h2M816 226h2M827 226h1M855 226h1M865 226h1M972 226h1M858 206h1M863 206h1M866 206h2M872 206h1M895 206h1M897 206h3M937 206h3M945 206h1M951 206h1M959 206h2M973 206h1M983 206h1M1002 206h1M1010 206h1M1012 206h1M935 186h1M946 186h1M971 186h1M927 166h2M945 166h1M987 166h1M997 166h1M1002 166h1M926 146h1M973 146h1M983 146h1M1023 146h1M932 126h1M944 106h1M943 86h1"/>
<path stroke="#00ffc0" d="M979 606h1M953 586h1M995 586h1M974 566h1M990 566h1M928 546h1M953 546h2M997 546h1M1019 546h1M547 526h1M879 526h1M899 526h1M913 526h1M934 526h1M938 526h1M948 526h2M953 526h1M517 506h1M584 506h1M865 506h1M869 506h1M880 506h1M895 506h1M903 506h3M387 486h1M409 486h1M579 486h1M894 486h1M966 486h1M427 466h1M788 466h2M897 466h1M1004 466h1M391 446h2M426 446h1M429 446h1M541 446h1M427 426h1M591 426h1M851 426h1M859 426h2M876 426h1M914 426h1M937 426h1M943 426h3M583 406h1M781 406h1M875 406h2M883 406h1M891 406h1M901 406h1M911 406h1M926 406h3M930 406h1M934 406h1M968 406h2M980 406h1M984 406h1M1012 406h1M1015 406h1M1022 406h1M523 386h1M810 386h2M893 386h2M903 386h1M920 386h1M922 386h1M932 386h1M934 386h2M943 386h2M949 386h2M987 386h1M998 386h1M682 366h1M861 366h1M871 366h2M914 366h2M918 366h1M924 366h1M939 366h3M943 366h1M978 366h1M983 366h2M999 366h1M1002 366h1M1015 366h1M540 346h1M862 346h1M868 346h1M886 346h1M889 346h2M895 346h6M902 346h1M907 346h1M917 346h1M922 346h1M931 346h1M940 346h2M956 346h2M961 346h1M968 346h1M1004 346h2M1015 346h1M1021 346h1M1023 346h1M522 326h1M612 326h1M880 326h2M892 326h1M896 326h1M900 326h1M943 326h1M962 326h1M971 326h4M981 326h1M986 326h1M988 326h2M991 326h1M994 326h1M423 306h1M688 306h2M887 306h3M981 306h1M986 306h2M1001 306h1M1022 306h1M582 286h1M615 286h1M868 286h1M885 286h2M896 286h1M900 286h1M421 266h1M859 266h1M958 266h1M424 246h2M429 246h1M544 246h1M582 246h2M847 246h1M856 226h1M868 226h1M872 226h1M912 226h1M994 226h1M879 206h2M883 206h2M893 206h1M900 206h1M908 206h1M941 206h3M946 206h1M961 206h1M976 206h3M984 206h3M966 186h1M1000 186h2M963 146h1M974 146h1M1015 146h1M956 126h1M965 126h1M950 106h1M1032 106h1M932 86h1M999 86h1"/>
<path stroke="#00ffab" d="M975 566h1M1013 566h1M947 546h1M984 546h1M1012 546h1M888 526h3M955 526h1M992 526h1M1013 526h1M585 506h2M856 506h1M888 506h1M585 486h1M824 486h1M870 486h1M901 486h2M869 466h1M883 466h1M890 466h1M427 446h1M785 446h1M868 446h1M871 446h2M892 446h1M1000 446h2M539 426h1M585 426h1M874 426h2M890 426h1M934 426h1M940 426h1M984 426h1M538 406h1M845 406h1M874 406h1M878 406h4M884 406h1M906 406h2M917 406h1M952 406h1M424 386h1M790 386h1M860 386h1M866 386h1M875 386h2M895 386h1M900 386h1M905 386h3M921 386h1M967 386h1M978 386h2M1018 386h1M523 366h1M579 366h1M865 366h1M873 366h1M899 366h3M913 366h1M919 366h1M956 366h1M971 366h2M1011 366h1M1023 366h1M863 346h1M877 346h1M880 346h1M894 346h1M912 346h1M930 346h1M937 346h3M944 346h2M963 346h1M965 346h1M973 346h1M987 346h1M995 346h3M1011 346h1M1013 346h1M1016 346h1M894 326h1M898 326h2M904 326h1M925 326h3M931 326h2M951 326h1M963 326h1M1014 326h3M424 306h1M542 306h1M879 306h2M885 306h2M891 306h1M947 306h3M959 306h1M965 306h1M974 306h1M584 286h1M913 286h1M936 286h1M950 286h1M957 286h1M979 286h1M987 286h1M998 286h1M521 266h1M543 266h1M585 266h1M791 266h1M910 266h1M423 246h1M876 246h1M896 246h1M910 246h1M929 246h2M960 246h1M989 246h1M520 226h1M545 226h1M520 206h1M888 206h1M896 206h1M903 206h3M915 206h2M955 206h2M962 206h1M1004 206h1M937 166h1M949 166h1M961 166h1M966 166h1M995 166h1M1021 166h1M948 146h2M978 146h1M1009 146h1M1026 146h1M953 126h2M1004 126h1M949 106h1M966 106h2M1015 106h1M933 86h1M977 86h1M1006 86h1M1008 86h1"/>
<path stroke="#00ff97" d="M943 606h1M1022 606h1M544 566h1M1007 566h2M917 546h1M958 546h1M546 526h1M877 526h1M912 526h1M926 526h2M950 526h2M959 526h2M974 526h2M1000 526h1M1018 526h1M878 506h2M900 506h1M543 486h1M580 486h1M791 486h2M868 486h1M905 486h4M951 486h1M972 486h1M975 486h1M395 466h1M542 466h1M849 466h1M861 466h1M864 466h1M875 466h1M881 466h1M884 466h1M899 466h1M926 466h1M930 466h1M873 446h1M893 446h2M921 446h1M930 446h1M425 426h1M582 426h1M853 426h1M864 426h1M891 426h1M903 426h2M912 426h1M939 426h1M956 426h1M986 426h2M1010 426h1M887 406h1M894 406h1M899 406h2M921 406h1M951 406h1M961 406h1M994 406h1M1018 406h2M538 386h1M788 386h2M885 386h1M888 386h1M904 386h1M923 386h1M933 386h1M938 386h1M947 386h2M956 386h1M961 386h1M968 386h3M975 386h1M1013 386h2M1019 386h1M866 366h1M874 366h3M880 366h2M885 366h1M892 366h2M903 366h1M908 366h1M933 366h1M969 366h1M976 366h1M987 366h1M994 366h1M997 366h1M1003 366h1M1016 366h1M1019 366h1M881 346h1M887 346h1M892 346h2M921 346h1M966 346h2M978 346h1M1009 346h1M866 326h2M877 326h1M897 326h1M902 326h1M913 326h3M957 326h1M983 326h2M997 326h1M1010 326h2M394 306h2M806 306h2M871 306h1M884 306h1M894 306h1M904 306h1M913 306h1M921 306h1M933 306h1M953 306h1M960 306h1M966 306h1M978 306h1M998 306h1M1009 306h1M708 286h2M948 286h1M983 286h1M991 286h1M1003 286h1M1005 286h1M1023 286h1M425 266h2M977 266h1M982 266h1M402 246h1M586 246h1M856 246h1M881 246h1M906 246h2M955 246h1M972 246h1M871 226h1M908 226h1M932 226h1M988 226h1M1012 226h1M544 206h1M912 206h1M944 206h1M979 206h2M991 206h1M953 186h1M992 186h2M1008 186h1M967 166h1M958 126h2M985 126h1M983 106h1M985 106h1M989 106h1M1003 106h1M967 86h1"/>
<path stroke="#00ff82" d="M1003 606h1M990 586h2M962 566h1M980 566h1M997 566h1M1008 546h1M1017 546h2M916 526h1M994 526h1M1016 526h1M544 506h1M809 506h2M868 506h1M881 506h1M906 506h2M911 506h2M967 506h3M974 506h2M851 486h1M912 486h2M937 486h1M940 486h2M987 486h1M992 486h1M394 466h1M870 466h2M873 466h1M880 466h1M917 466h1M922 466h1M924 466h2M938 466h1M1020 466h1M540 446h1M878 446h2M883 446h1M898 446h3M924 446h2M953 446h1M987 446h1M991 446h1M1004 446h2M538 426h1M865 426h2M868 426h2M881 426h1M892 426h2M898 426h3M915 426h1M1014 426h1M849 406h1M909 406h2M916 406h1M922 406h1M924 406h2M948 406h1M960 406h1M973 406h1M981 406h3M985 406h1M989 406h2M1001 406h1M1010 406h1M393 386h1M425 386h2M881 386h2M892 386h1M901 386h2M908 386h1M928 386h1M952 386h1M960 386h1M982 386h1M986 386h1M991 386h1M1001 386h2M817 366h3M894 366h1M916 366h1M922 366h1M927 366h1M946 366h2M991 366h1M1004 366h1M1024 366h1M523 346h1M929 346h1M943 346h1M953 346h1M959 346h1M982 346h1M990 346h2M1006 346h1M1012 346h1M540 326h1M920 326h1M922 326h1M944 326h2M952 326h1M961 326h1M969 326h1M977 326h1M995 326h2M1003 326h3M1021 326h1M522 306h1M541 306h1M863 306h1M926 306h2M934 306h2M979 306h1M990 306h1M992 306h1M542 286h1M873 286h1M884 286h1M894 286h1M958 286h1M962 286h2M975 286h1M990 286h1M1010 286h1M1024 286h2M422 266h1M427 266h1M955 266h1M971 266h1M1008 266h2M543 246h1M584 246h1M863 246h1M879 246h1M912 246h1M977 246h1M981 246h1M860 226h1M1017 226h1M870 206h1M952 206h1M981 206h1M1005 206h2M1013 206h1M1020 206h1M954 186h2M990 166h1M999 166h1M991 146h2M995 106h2M1014 106h1M916 86h1M996 86h1"/>
<path stroke="#00ff6d" d="M1004 606h2M983 586h2M521 566h1M526 566h1M540 566h1M543 566h1M989 566h1M1020 566h1M545 546h1M932 526h2M962 526h2M1003 526h1M897 506h1M916 506h1M924 506h1M928 506h1M952 506h1M986 506h2M992 506h1M1007 506h1M1022 506h1M859 486h1M865 486h1M878 486h1M883 486h2M916 486h1M922 486h1M930 486h1M967 486h2M996 486h2M423 466h1M541 466h1M874 466h1M882 466h1M946 466h1M955 466h1M962 466h1M967 466h1M991 466h1M1003 466h1M1008 466h2M822 446h1M866 446h1M876 446h1M888 446h1M922 446h1M944 446h2M963 446h2M980 446h1M982 446h3M986 446h1M992 446h2M996 446h1M867 426h1M871 426h1M877 426h2M885 426h2M889 426h1M894 426h2M926 426h2M996 426h1M1005 426h1M896 406h3M912 406h1M920 406h1M962 406h1M1000 406h1M1008 406h1M1021 406h1M537 386h1M861 386h1M868 386h1M896 386h1M912 386h1M930 386h1M946 386h1M963 386h1M965 386h2M973 386h2M976 386h2M984 386h2M1007 386h1M538 366h1M905 366h2M926 366h1M945 366h1M948 366h2M982 366h1M1017 366h1M539 346h1M901 346h1M905 346h1M933 346h1M949 346h2M958 346h1M977 346h1M539 326h1M942 326h1M968 326h1M890 306h1M923 306h2M929 306h2M937 306h2M946 306h1M964 306h1M968 306h2M973 306h1M983 306h1M989 306h1M994 306h2M1006 306h1M882 286h1M895 286h1M898 286h1M953 286h2M964 286h3M969 286h2M996 286h2M1018 286h1M542 266h1M584 266h1M876 266h2M898 266h1M994 266h1M542 246h1M864 246h2M900 246h1M915 246h1M919 246h1M922 246h1M950 246h1M957 246h1M1009 246h1M544 226h1M861 226h1M863 226h2M870 226h1M883 226h1M895 226h1M899 226h1M964 226h1M873 206h2M901 206h1M934 206h1M964 206h2M997 206h1M1001 206h1M952 186h1M999 186h1M1011 166h2M946 106h1M981 106h1M1005 106h3M1009 106h1"/>
<path stroke="#00ff59" d="M1012 626h1M527 566h1M536 566h1M541 566h1M991 566h1M517 546h1M944 546h2M516 526h1M545 526h1M995 526h3M999 526h1M543 506h1M872 506h1M894 506h1M910 506h1M925 506h1M954 506h1M961 506h1M980 506h2M984 506h2M994 506h1M1004 506h1M1018 506h1M1031 506h1M542 486h1M860 486h1M862 486h1M960 486h2M970 486h2M986 486h1M1004 486h2M887 466h1M903 466h1M909 466h2M934 466h1M965 466h1M976 466h2M979 466h1M1001 466h1M1013 466h2M539 446h1M867 446h1M880 446h1M884 446h1M941 446h1M955 446h1M966 446h2M979 446h1M985 446h1M999 446h1M1006 446h1M1010 446h1M522 426h1M872 426h1M916 426h1M919 426h1M946 426h2M955 426h1M959 426h2M972 426h1M998 426h3M1007 426h1M393 406h1M537 406h1M873 406h1M877 406h1M893 406h1M895 406h1M913 406h1M949 406h1M978 406h1M1009 406h1M1013 406h2M869 386h1M871 386h1M874 386h1M909 386h1M911 386h1M918 386h1M926 386h1M942 386h1M951 386h1M958 386h1M980 386h1M988 386h2M1005 386h1M879 366h1M886 366h2M895 366h3M911 366h1M917 366h1M958 366h1M962 366h1M966 366h2M977 366h1M985 366h1M1009 366h1M1026 366h1M538 346h1M1008 346h1M870 326h1M878 326h1M905 326h2M939 326h1M955 326h1M980 326h1M882 306h1M899 306h2M908 306h1M919 306h1M922 306h1M925 306h1M944 306h1M952 306h1M972 306h1M1017 306h2M522 286h1M865 286h1M875 286h1M893 286h1M907 286h6M921 286h1M952 286h1M959 286h3M985 286h1M1033 286h1M582 266h2M861 266h1M872 266h1M884 266h1M891 266h1M947 266h1M1016 266h1M521 246h1M585 246h1M866 246h1M887 246h3M920 246h1M941 246h1M974 246h2M1002 246h1M849 226h1M943 226h2M953 226h1M996 226h1M1022 226h1M914 206h1M993 206h1M1009 206h1M982 146h1M989 146h1M996 146h1M989 126h1M994 126h1M1017 106h1M1020 86h1"/>
<path stroke="#00ff44" d="M994 586h1M523 566h1M525 566h1M530 566h1M533 566h1M538 566h1M1022 566h1M1024 566h1M998 546h4M1013 546h1M544 526h1M928 526h1M930 526h1M542 506h1M682 506h1M867 506h1M871 506h1M873 506h1M882 506h1M889 506h1M913 506h2M937 506h2M948 506h1M951 506h1M955 506h5M964 506h2M978 506h2M982 506h1M541 486h1M875 486h1M877 486h1M889 486h1M910 486h2M919 486h1M950 486h1M959 486h1M1000 486h2M520 466h1M872 466h1M888 466h2M891 466h1M907 466h2M912 466h1M937 466h1M953 466h2M956 466h2M971 466h3M1005 466h1M1010 466h1M521 446h1M870 446h1M875 446h1M881 446h1M933 446h2M939 446h2M972 446h2M1003 446h1M1014 446h1M537 426h1M858 426h1M908 426h1M921 426h2M928 426h1M952 426h1M954 426h1M964 426h1M967 426h1M970 426h1M976 426h1M988 426h1M992 426h1M523 406h1M890 406h1M892 406h1M904 406h1M914 406h1M944 406h1M946 406h1M953 406h1M963 406h4M977 406h1M991 406h1M996 406h1M889 386h2M898 386h1M915 386h3M937 386h1M981 386h1M992 386h1M1003 386h1M1009 386h4M537 366h1M851 366h1M870 366h1M882 366h1M898 366h1M912 366h1M923 366h1M925 366h1M992 366h1M1018 366h1M936 346h1M998 346h2M1007 346h1M1020 346h1M947 326h1M1000 326h1M1006 326h1M883 306h1M893 306h1M901 306h1M905 306h1M918 306h1M939 306h1M951 306h1M970 306h1M975 306h2M980 306h1M985 306h1M997 306h1M877 286h3M887 286h3M905 286h1M916 286h1M920 286h1M922 286h1M934 286h1M971 286h1M976 286h1M1000 286h1M863 266h1M867 266h1M873 266h1M886 266h4M895 266h2M900 266h2M913 266h1M925 266h1M950 266h1M959 266h2M980 266h1M1018 266h4M877 246h1M885 246h2M908 246h1M916 246h3M979 246h1M983 246h1M987 246h1M994 246h1M998 246h1M1003 246h1M875 226h2M881 226h1M894 226h1M896 226h1M904 226h1M918 226h1M931 226h1M934 226h1M954 226h1M976 226h1M986 226h2M951 186h1M974 186h1M978 186h1M980 186h1M990 186h1M963 166h2M1005 166h1M1031 166h1M1007 146h1M1020 146h1M962 126h1M987 126h1M1002 126h1M1012 126h2M952 106h2M1013 106h1M956 86h1M1000 86h1"/>
<path stroke="#00ff2f" d="M1009 586h1M1017 586h1M1026 586h1M522 566h1M524 566h1M532 566h1M534 566h2M539 566h1M542 566h1M985 566h1M1021 566h1M970 546h2M968 526h2M1017 526h1M887 506h1M893 506h1M899 506h1M917 506h1M920 506h1M933 506h2M997 506h1M999 506h1M1003 506h1M1005 506h2M1012 506h2M1019 506h2M519 486h1M880 486h1M890 486h4M923 486h1M926 486h2M962 486h1M983 486h2M988 486h1M1008 486h1M1017 486h1M424 466h1M876 466h3M935 466h2M941 466h1M944 466h1M947 466h1M958 466h2M969 466h2M1007 466h1M848 446h1M861 446h1M885 446h1M896 446h1M901 446h1M918 446h1M962 446h1M994 446h1M1015 446h2M1020 446h1M925 426h1M930 426h1M938 426h1M941 426h2M950 426h2M961 426h3M966 426h1M971 426h1M974 426h2M979 426h1M990 426h1M1001 426h2M1012 426h2M885 406h2M967 406h1M1005 406h1M536 386h1M880 386h1M884 386h1M899 386h1M910 386h1M925 386h1M954 386h1M997 386h1M1016 386h2M1020 386h2M965 366h1M1010 366h1M1020 366h1M928 346h1M964 346h1M1024 346h3M965 326h1M1019 326h1M865 306h1M874 306h1M876 306h3M895 306h2M931 306h2M936 306h1M941 306h1M943 306h1M945 306h1M961 306h1M971 306h1M991 306h1M1005 306h1M540 286h2M880 286h1M902 286h1M917 286h1M926 286h2M930 286h1M946 286h2M951 286h1M955 286h1M977 286h1M995 286h1M1001 286h1M1015 286h1M862 266h1M864 266h1M868 266h1M908 266h1M932 266h1M934 266h1M944 266h1M961 266h2M978 266h2M986 266h1M1005 266h2M1017 266h1M868 246h1M880 246h1M891 246h1M909 246h1M913 246h1M924 246h2M938 246h1M945 246h1M951 246h1M985 246h1M988 246h1M999 246h1M1007 246h1M1013 246h1M543 226h1M906 226h1M928 226h1M933 226h1M941 226h1M951 226h2M958 226h1M981 226h1M983 226h1M542 206h2M1007 206h1M939 186h1M956 186h1M975 186h1M979 186h1M1019 186h1M965 166h1M1017 146h1M980 126h1M1000 126h1M992 106h1M1010 106h1M1025 106h1M1031 106h1M925 86h1M991 86h1"/>
<path stroke="#00ff1b" d="M528 566h2M537 566h1M544 546h1M1006 546h2M978 526h2M1007 526h1M875 506h1M885 506h1M901 506h2M922 506h1M935 506h1M939 506h5M977 506h1M998 506h1M881 486h2M897 486h1M915 486h1M918 486h1M929 486h1M939 486h1M945 486h1M956 486h1M976 486h2M979 486h1M1002 486h1M540 466h1M886 466h1M896 466h1M904 466h1M911 466h1M913 466h1M992 466h2M1015 466h1M537 446h2M862 446h1M877 446h1M897 446h1M905 446h3M910 446h1M949 446h1M990 446h1M873 426h1M905 426h1M907 426h1M918 426h1M968 426h1M980 426h2M983 426h1M991 426h1M1015 426h1M535 406h2M957 406h3M974 406h2M1004 406h1M1017 406h1M524 386h1M535 386h1M877 386h1M897 386h1M913 386h1M940 386h2M945 386h1M959 386h1M971 386h2M983 386h1M990 386h1M524 366h1M536 366h1M877 366h2M936 366h2M961 366h1M979 346h2M1010 346h1M1001 326h1M539 306h1M866 306h1M875 306h1M909 306h4M915 306h2M999 306h2M1002 306h1M1008 306h1M1011 306h1M914 286h2M938 286h2M949 286h1M956 286h1M967 286h2M982 286h1M986 286h1M1009 286h1M1026 286h1M865 266h1M869 266h2M881 266h1M914 266h1M946 266h1M1002 266h2M1007 266h1M869 246h1M873 246h2M892 246h2M897 246h2M914 246h1M978 246h1M991 246h3M1000 246h2M1006 246h1M1012 246h1M892 226h1M922 226h4M939 226h1M978 226h1M989 226h1M1001 226h1M1020 226h1M945 126h1M992 126h1M1003 126h1M1026 106h1M922 86h1M1013 86h1"/>
<path stroke="#00ff06" d="M531 566h1M542 546h1M518 506h1M876 506h1M908 506h2M918 506h1M930 506h3M945 506h3M960 506h1M962 506h1M970 506h4M983 506h1M995 506h2M1016 506h1M871 486h2M876 486h1M879 486h1M885 486h2M888 486h1M920 486h1M928 486h1M938 486h1M942 486h2M952 486h2M958 486h1M964 486h1M978 486h1M990 486h1M995 486h1M1014 486h2M539 466h1M921 466h1M923 466h1M929 466h1M931 466h3M942 466h2M945 466h1M951 466h2M961 466h1M978 466h1M981 466h1M1019 466h1M887 446h1M923 446h1M938 446h1M942 446h1M946 446h3M951 446h2M956 446h2M968 446h1M974 446h1M995 446h1M888 426h1M929 426h1M931 426h1M933 426h1M935 426h2M958 426h1M993 426h2M1008 426h2M1021 426h1M888 406h1M905 406h1M936 406h2M954 406h3M997 406h1M1020 406h1M878 386h2M924 386h1M955 386h1M995 386h1M909 366h1M968 366h1M995 366h2M537 346h1M537 326h1M523 306h1M540 306h1M898 306h1M917 306h1M950 306h1M984 306h1M996 306h1M866 286h1M918 286h1M935 286h1M937 286h1M942 286h2M972 286h1M981 286h1M999 286h1M1002 286h1M1017 286h1M522 266h1M540 266h2M866 266h1M911 266h2M921 266h1M935 266h1M945 266h1M970 266h1M988 266h1M992 266h2M996 266h4M540 246h1M890 246h1M902 246h3M926 246h3M934 246h4M944 246h1M961 246h1M969 246h1M982 246h1M984 246h1M990 246h1M995 246h1M1014 246h1M884 226h3M889 226h3M907 226h1M930 226h1M957 226h1M959 226h1M967 226h2M975 226h1M977 226h1M982 226h1M985 226h1M990 226h2M995 226h1M998 226h3M1003 226h2M1008 226h1M1023 106h2M975 86h2M1010 86h2M1019 86h1"/>
<path stroke="#0fff00" d="M1014 626h1M1026 566h1M543 526h1M890 506h1M896 506h1M966 506h1M1001 506h2M540 486h1M896 486h1M898 486h1M921 486h1M944 486h1M991 486h1M999 486h1M1003 486h1M1013 486h1M920 466h1M927 466h1M982 466h2M995 466h1M1006 466h1M1017 466h1M869 446h1M895 446h1M903 446h2M912 446h1M927 446h2M943 446h1M954 446h1M958 446h1M965 446h1M970 446h1M976 446h3M989 446h1M1002 446h1M1018 446h2M536 426h1M909 426h1M932 426h1M948 426h2M953 426h1M957 426h1M1004 426h1M1032 426h1M882 406h1M1025 406h1M886 386h2M1000 386h1M535 366h1M889 366h2M942 346h1M538 326h1M1010 306h1M539 286h1M874 286h1M881 286h1M897 286h1M906 286h1M919 286h1M928 286h2M940 286h1M944 286h2M974 286h1M978 286h1M980 286h1M1012 286h1M871 266h1M879 266h2M906 266h1M939 266h4M963 266h1M975 266h2M1004 266h1M541 246h1M875 246h1M901 246h1M923 246h1M980 246h1M997 246h1M1010 246h1M1015 246h1M541 226h1M900 226h1M915 226h1M926 226h1M936 226h1M942 226h1M969 226h3M993 226h1M1005 226h1M1018 226h1M521 206h1M1017 186h1M1001 106h1M968 86h1M998 86h1M1018 86h1"/>
<path stroke="#25ff00" d="M543 546h1M1025 546h1M542 526h1M541 506h1M921 506h1M923 506h1M1015 506h1M539 486h1M904 486h1M935 486h1M947 486h3M955 486h1M965 486h1M973 486h2M985 486h1M1021 486h1M538 466h1M879 466h1M893 466h1M906 466h1M919 466h1M968 466h1M975 466h1M986 466h1M990 466h1M1011 466h1M1018 466h1M1024 466h1M890 446h2M902 446h1M917 446h1M926 446h1M935 446h3M997 446h1M1021 446h1M535 426h1M982 426h1M989 426h1M995 426h1M997 426h1M1003 426h1M1006 426h1M1019 426h1M902 406h2M908 406h1M993 386h1M1026 386h1M536 346h1M523 326h1M538 306h1M940 306h1M942 306h1M957 306h2M891 286h2M903 286h1M931 286h3M1007 286h2M539 266h1M875 266h1M878 266h1M936 266h3M972 266h2M981 266h1M983 266h1M991 266h1M539 246h1M882 246h3M953 246h2M967 246h1M976 246h1M1016 246h1M521 226h1M540 226h1M542 226h1M877 226h4M887 226h1M897 226h1M913 226h1M921 226h1M949 226h1M962 226h1M974 226h1M979 226h2M541 206h1M955 166h1M1013 166h1M1019 126h1M1012 86h1M1015 86h1"/>
<path stroke="#3bff00" d="M1016 626h1M1020 626h1M987 566h2M541 546h1M1020 546h1M1023 546h1M541 526h1M1019 526h2M540 506h1M953 506h1M520 486h1M914 486h1M917 486h1M931 486h2M957 486h1M963 486h1M969 486h1M1018 486h1M885 466h1M918 466h1M949 466h2M963 466h1M966 466h1M980 466h1M536 446h1M882 446h1M908 446h1M913 446h4M920 446h1M959 446h1M969 446h1M971 446h1M981 446h1M1017 446h1M523 426h1M910 426h2M969 426h1M978 426h1M524 406h1M534 406h1M891 386h1M994 386h1M934 366h1M535 346h1M536 326h1M1025 326h1M892 306h1M1013 306h1M1021 306h1M901 286h1M923 286h2M941 286h1M992 286h1M1019 286h2M523 266h1M538 266h1M902 266h1M916 266h2M943 266h1M949 266h1M956 266h2M974 266h1M1010 266h1M1022 266h1M878 246h1M942 246h1M909 226h1M914 226h1M938 226h1M950 226h1M965 226h1M973 226h1M1002 226h1M1015 226h1M540 206h1M996 186h1M1020 186h3M1016 146h1M1020 126h1M1007 86h1"/>
<path stroke="#50ff00" d="M1023 626h1M1025 566h1M518 546h1M883 506h2M919 506h1M976 506h1M989 506h3M1021 506h1M537 486h2M887 486h1M899 486h2M924 486h1M936 486h1M980 486h1M1006 486h2M1012 486h1M895 466h1M898 466h1M905 466h1M939 466h2M974 466h1M987 466h2M994 466h1M874 446h1M988 446h1M1007 446h1M1024 446h1M882 426h2M896 426h2M1020 426h1M1022 426h1M534 386h1M929 386h1M1008 386h1M1006 366h2M524 346h1M523 286h1M883 286h1M899 286h1M925 286h1M973 286h1M1004 286h1M909 266h1M930 266h1M953 266h2M969 266h1M989 266h2M995 266h1M1000 266h2M894 246h1M939 246h2M943 246h1M948 246h1M952 246h1M962 246h2M1026 246h1M869 226h1M873 226h1M901 226h3M911 226h1M916 226h1M919 226h1M935 226h1M937 226h1M946 226h3M960 226h2M963 226h1M539 206h1M1025 206h1M995 146h1M1015 126h1M1024 126h1M1026 126h1M1041 126h1M1001 86h2M1009 86h1"/>
<path stroke="#66ff00" d="M1023 566h1M540 546h1M539 526h2M1024 526h1M519 506h1M949 506h2M1011 486h1M900 466h1M928 466h1M985 466h1M989 466h1M1016 466h1M1021 466h1M886 446h1M931 446h2M879 426h2M917 426h1M1017 426h1M1025 426h1M1024 406h1M936 386h1M962 386h1M537 306h1M897 306h1M1025 306h1M538 286h1M984 286h1M882 266h2M890 266h1M892 266h1M915 266h1M929 266h1M933 266h1M1011 266h1M911 246h1M968 246h1M970 246h2M1024 246h1M940 226h1M1006 226h1M1009 226h1M534 206h1M970 166h1M1030 166h1M1008 126h1M1016 126h1M982 106h1"/>
<path stroke="#7bff00" d="M1017 626h1M538 546h1M517 526h1M534 506h2M1000 506h1M909 486h1M946 486h1M982 486h1M1019 486h2M1023 486h1M536 466h2M901 466h2M948 466h1M960 466h1M964 466h1M996 466h1M1025 466h1M522 446h1M889 446h1M929 446h1M998 446h1M534 426h1M973 426h1M939 406h1M1022 386h1M534 366h1M988 286h2M1016 286h1M1021 286h1M903 266h3M920 266h1M926 266h3M985 266h1M1015 266h1M522 246h1M958 246h2M973 246h1M1004 246h2M1008 246h1M1020 246h2M522 226h1M905 226h1M917 226h1M929 226h1M984 226h1M1016 226h1M1024 226h1M522 206h1M531 206h2M1025 166h1M1017 126h1M1025 126h1M974 106h1"/>
<path stroke="#91ff00" d="M1019 586h1M1023 586h3M539 546h1M536 506h4M898 506h1M925 486h1M1022 486h1M521 466h1M915 466h2M535 446h1M909 446h1M911 446h1M950 446h1M525 386h1M531 366h1M524 326h1M1023 326h1M536 306h1M1023 306h2M1022 286h1M537 266h1M893 266h2M899 266h1M965 266h4M984 266h1M1012 266h3M1024 266h1M538 246h1M895 246h1M949 246h1M956 246h1M1017 246h2M539 226h1M874 226h1M992 226h1M997 226h1M1007 226h1M525 206h1M535 206h1M537 206h2M1015 186h1M1023 126h1"/>
<path stroke="#a6ff00" d="M521 546h1M536 546h2M1026 546h1M538 526h1M1025 526h1M989 486h1M894 466h1M984 466h1M1022 466h1M919 446h1M960 446h2M1022 446h1M906 426h1M529 386h1M531 386h1M533 326h2M1024 326h1M1026 326h1M524 306h1M1011 286h1M1025 266h1M899 246h1M933 246h1M964 246h3M1022 246h1M1025 246h1M537 226h1M893 226h1M910 226h1M920 226h1M945 226h1M1021 226h1M1025 226h1M526 206h3M530 206h1M1016 186h1M1024 166h1M1021 146h1"/>
<path stroke="#bcff00" d="M1021 626h1M519 546h1M530 546h2M534 546h1M532 506h1M981 486h1M994 486h1M522 466h1M534 466h2M523 446h1M1026 426h1M526 406h2M1026 406h1M526 386h1M530 386h1M1024 386h1M525 366h2M532 366h2M525 346h1M529 326h1M535 326h1M528 306h1M536 266h1M924 266h1M537 246h1M1019 246h1M536 226h1M538 226h1M966 226h1M523 206h1M529 206h1M533 206h1M536 206h1M1022 86h1"/>
<path stroke="#d1ff00" d="M1022 626h1M533 546h1M535 546h1M1021 546h1M518 526h1M537 526h1M1030 526h1M520 506h1M531 506h1M1023 506h1M521 486h1M535 486h2M903 486h1M534 446h1M1024 426h1M1031 426h1M528 406h1M1023 406h1M528 386h1M532 386h1M1025 386h1M530 366h1M533 346h1M525 326h4M532 326h1M529 306h1M531 306h2M537 286h1M931 266h1M523 246h1M946 246h2M1018 186h1M1033 86h1"/>
<path stroke="#e7ff00" d="M522 546h1M532 546h1M1024 546h1M521 506h1M523 506h1M527 506h1M527 486h1M530 486h1M533 486h1M1025 486h1M526 466h1M529 466h1M532 466h1M525 426h3M531 426h3M529 406h1M532 406h2M533 386h1M1023 386h1M527 366h1M526 346h2M532 346h1M534 346h1M530 326h2M527 306h1M530 306h1M533 306h3M524 286h1M536 286h1M524 266h2M535 266h1M536 246h1M535 226h1M1023 206h1M1026 166h1"/>
<path stroke="#fcff00" d="M1024 626h1M520 546h1M523 546h3M535 526h2M522 506h1M533 506h1M1024 506h1M534 486h1M993 486h1M523 466h2M533 466h1M524 426h1M529 426h1M525 406h1M530 406h1M527 386h1M530 346h1M525 306h1M531 266h1M874 266h1M897 266h1M948 266h1M1023 246h1M523 226h1M1026 226h1M524 206h1M1024 206h1M1002 186h1"/>
<path stroke="#ffed00" d="M1019 566h1M526 546h1M528 546h1M1022 546h1M522 526h1M525 506h2M528 506h2M1026 506h1M522 486h1M524 486h1M527 466h2M530 466h1M533 446h1M528 426h1M531 406h1M528 366h2M528 346h2M531 346h1M527 266h2M918 266h2M951 266h2M524 226h1M526 226h1M534 226h1M1023 166h1"/>
<path stroke="#ffd700" d="M519 526h1M530 506h1M528 486h1M1023 466h1M1026 466h1M530 426h1M1023 426h1M526 306h1M534 286h2M534 266h1M1023 266h1M531 226h1"/>
<path stroke="#ffc200" d="M529 546h1M534 526h1M1023 526h1M524 506h1M523 486h1M525 486h2M529 486h1M532 486h1M525 466h1M531 466h1M524 446h1M1025 446h1M525 286h1M529 266h1M533 266h1M533 246h1M535 246h1M528 226h1M532 226h1M927 226h1M1026 206h1M1040 126h1"/>
<path stroke="#ffac00" d="M527 546h1M1025 506h1M1024 486h1M525 446h2M528 446h1M530 446h1M532 446h1M1026 446h1M532 266h1M1026 266h1M529 226h1"/>
<path stroke="#ff9700" d="M525 526h2M531 526h1M533 526h1M1026 526h1M531 486h1M1026 486h1M527 446h1M529 446h1M1023 446h1M1026 306h1M526 286h3M531 286h1M533 286h1M526 266h1M530 266h1M525 226h1M527 226h1M530 226h1M533 226h1"/>
<path stroke="#ff8200" d="M520 526h1M523 526h1M529 526h2M532 526h1M530 286h1M524 246h1M527 246h1M532 246h1"/>
<path stroke="#ff6c00" d="M524 526h1M527 526h1M531 446h1M526 246h1M534 246h1M1023 226h1"/>
<path stroke="#ff5600" d="M1025 626h1M528 526h1M529 286h1M532 286h1M529 246h1M531 246h1"/>
<path stroke="#ff4100" d="M521 526h1M530 246h1"/>
<path stroke="#ff2b00" d="M525 246h1M1019 226h1"/>
<path stroke="#ff1600" d="M528 246h1M1032 86h1"/>
</g>
<g class="t" fill="#f01010">
<text x="62.5" y="27" font-size="21" textLength="291.5" lengthAdjust="spacingAndGlyphs">ra_150704232221_hisb_lin.fit</text>
</g>
<g class="t" fill="#f01a16" stroke="#f01a16" stroke-width="0.35">
<text x="471" y="26.8" font-size="15.5" textLength="11" lengthAdjust="spacingAndGlyphs">0</text>
<text x="748" y="26" font-size="14" textLength="269" lengthAdjust="spacingAndGlyphs">5.00000e+06 photons/cm<tspan dy="-8" font-size="10">2</tspan><tspan dy="8">/sec/A/sr</tspan></text>
<text x="1043.5" y="26.5" font-size="16" textLength="136" lengthAdjust="spacingAndGlyphs">EXPTIME = 299 s</text>
</g>
<rect x="486" y="6" width="256" height="20" fill="url(#cb)"/>
<rect x="485.5" y="5.5" width="257" height="21" fill="none" stroke="#e8503a" stroke-width="1"/>
<g fill="none" stroke="#e8503a" stroke-width="1">
<rect x="123.5" y="35.5" width="1023" height="640"/>
<path d="M177.5 675v-7M177.5 36v7M235.5 675v-7M235.5 36v7M293.5 675v-7M293.5 36v7M351.5 675v-7M351.5 36v7M409.5 675v-13M409.5 36v13M467.5 675v-7M467.5 36v7M525.5 675v-7M525.5 36v7M583.5 675v-7M583.5 36v7M641.5 675v-7M641.5 36v7M699.5 675v-13M699.5 36v13M757.5 675v-7M757.5 36v7M815.5 675v-7M815.5 36v7M873.5 675v-7M873.5 36v7M931.5 675v-7M931.5 36v7M989.5 675v-13M989.5 36v13M1047.5 675v-7M1047.5 36v7M1105.5 675v-7M1105.5 36v7M124 675.5h21M1147 675.5h-21M124 655.5h10M1147 655.5h-10M124 635.5h10M1147 635.5h-10M124 615.5h10M1147 615.5h-10M124 595.5h10M1147 595.5h-10M124 575.5h21M1147 575.5h-21M124 555.5h10M1147 555.5h-10M124 535.5h10M1147 535.5h-10M124 515.5h10M1147 515.5h-10M124 495.5h10M1147 495.5h-10M124 475.5h21M1147 475.5h-21M124 455.5h10M1147 455.5h-10M124 435.5h10M1147 435.5h-10M124 415.5h10M1147 415.5h-10M124 395.5h10M1147 395.5h-10M124 375.5h21M1147 375.5h-21M124 355.5h10M1147 355.5h-10M124 335.5h10M1147 335.5h-10M124 315.5h10M1147 315.5h-10M124 295.5h10M1147 295.5h-10M124 275.5h21M1147 275.5h-21M124 255.5h10M1147 255.5h-10M124 235.5h10M1147 235.5h-10M124 215.5h10M1147 215.5h-10M124 195.5h10M1147 195.5h-10M124 175.5h21M1147 175.5h-21M124 155.5h10M1147 155.5h-10M124 135.5h10M1147 135.5h-10M124 115.5h10M1147 115.5h-10M124 95.5h10M1147 95.5h-10M124 75.5h21M1147 75.5h-21M124 55.5h10M1147 55.5h-10M124 35.5h10M1147 35.5h-10"/>
</g>
<g class="t" fill="#ff2a14" font-size="27.5">
<text x="82.5" y="88.5" textLength="32" lengthAdjust="spacingAndGlyphs">30</text><text x="82.5" y="188.5" textLength="32" lengthAdjust="spacingAndGlyphs">25</text><text x="82.5" y="288.5" textLength="32" lengthAdjust="spacingAndGlyphs">20</text><text x="82.5" y="388.5" textLength="32" lengthAdjust="spacingAndGlyphs">15</text><text x="82.5" y="488.5" textLength="32" lengthAdjust="spacingAndGlyphs">10</text><text x="98.5" y="588.5" textLength="16" lengthAdjust="spacingAndGlyphs">5</text><text x="98.5" y="676.3" textLength="16" lengthAdjust="spacingAndGlyphs">0</text>
<text x="378.0" y="720.8" textLength="63" lengthAdjust="spacingAndGlyphs">1000</text><text x="668.0" y="720.8" textLength="63" lengthAdjust="spacingAndGlyphs">1500</text><text x="958.0" y="720.8" textLength="63" lengthAdjust="spacingAndGlyphs">2000</text>
<text x="539" y="760" textLength="194" lengthAdjust="spacingAndGlyphs">Wavelength (Å)</text>
<text transform="translate(54,475.5) rotate(-90)" textLength="238" lengthAdjust="spacingAndGlyphs">Spatial Row (Pixel)</text>
</g>
</svg>
</body></html>
